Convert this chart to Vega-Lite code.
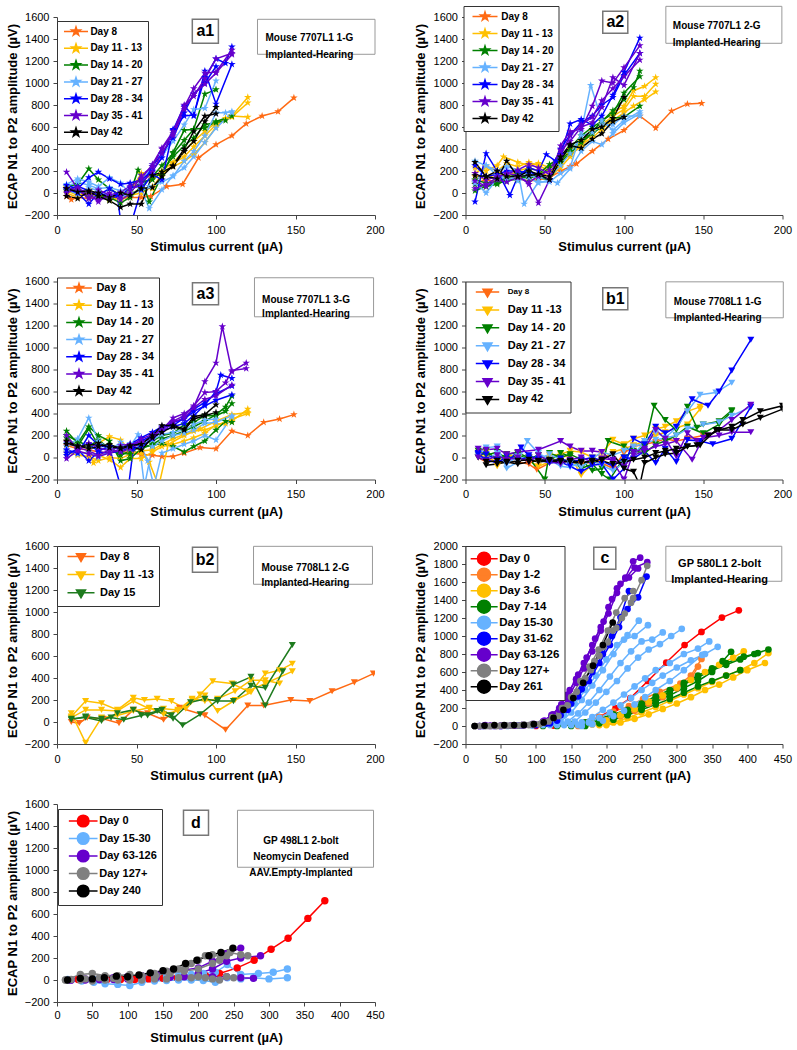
{
"$schema":"https://vega.github.io/schema/vega-lite/v6.json",
"background":"white",
"padding":{"left":6,"top":5,"right":5,"bottom":5},
"config":{
 "view":{"stroke":null},
 "font":"Liberation Sans",
 "axis":{"grid":false,"domainColor":"#444","tickColor":"#444","tickSize":4,"labelFontSize":11,"labelColor":"black","titleFontSize":13,"titleFontWeight":"bold","titleColor":"black","labelPadding":4,"labelOverlap":false,"labelFlush":false,"tickCount":30},
 "axisX":{"labelPadding":5,"titlePadding":5.5},
 "axisY":{"titlePadding":5},
 "legend":{"padding":5,"fillColor":"white","strokeColor":"#333","labelFontWeight":"bold","labelColor":"black","symbolStrokeWidth":1.5,"labelFont":"Liberation Sans"}
},
"datasets":{
"a1":[
{"g":0,"c":0,"x":6,"y":-30},{"g":0,"c":0,"x":9,"y":-60},{"g":0,"c":0,"x":13,"y":-40},{"g":0,"c":0,"x":20,"y":-50},{"g":0,"c":0,"x":26,"y":-30},{"g":0,"c":0,"x":33,"y":-60},{"g":0,"c":0,"x":40,"y":-50},{"g":0,"c":0,"x":46,"y":-40},{"g":0,"c":0,"x":53,"y":-40},{"g":0,"c":0,"x":59,"y":-30},{"g":0,"c":0,"x":69,"y":60},{"g":0,"c":0,"x":79,"y":80},{"g":0,"c":0,"x":89,"y":320},{"g":0,"c":0,"x":100,"y":440},{"g":0,"c":0,"x":110,"y":520},{"g":0,"c":0,"x":119,"y":630},{"g":0,"c":0,"x":129,"y":700},{"g":0,"c":0,"x":139,"y":740},{"g":0,"c":0,"x":149,"y":865},
{"g":1,"c":0,"x":6,"y":20},{"g":1,"c":0,"x":13,"y":-20},{"g":1,"c":0,"x":20,"y":10},{"g":1,"c":0,"x":26,"y":-30},{"g":1,"c":0,"x":33,"y":-60},{"g":1,"c":0,"x":40,"y":-40},{"g":1,"c":0,"x":46,"y":-20},{"g":1,"c":0,"x":53,"y":0},{"g":1,"c":0,"x":60,"y":60},{"g":1,"c":0,"x":66,"y":150},{"g":1,"c":0,"x":73,"y":270},{"g":1,"c":0,"x":80,"y":330},{"g":1,"c":0,"x":86,"y":420},{"g":1,"c":0,"x":93,"y":520},{"g":1,"c":0,"x":100,"y":620},{"g":1,"c":0,"x":110,"y":700},{"g":1,"c":0,"x":120,"y":870},
{"g":1,"c":1,"x":6,"y":50},{"g":1,"c":1,"x":13,"y":30},{"g":1,"c":1,"x":20,"y":-10},{"g":1,"c":1,"x":26,"y":0},{"g":1,"c":1,"x":33,"y":-40},{"g":1,"c":1,"x":40,"y":-20},{"g":1,"c":1,"x":46,"y":10},{"g":1,"c":1,"x":53,"y":180},{"g":1,"c":1,"x":60,"y":130},{"g":1,"c":1,"x":66,"y":200},{"g":1,"c":1,"x":73,"y":280},{"g":1,"c":1,"x":80,"y":380},{"g":1,"c":1,"x":86,"y":470},{"g":1,"c":1,"x":93,"y":560},{"g":1,"c":1,"x":100,"y":640},{"g":1,"c":1,"x":110,"y":690},{"g":1,"c":1,"x":120,"y":820},
{"g":1,"c":2,"x":6,"y":0},{"g":1,"c":2,"x":13,"y":-40},{"g":1,"c":2,"x":20,"y":30},{"g":1,"c":2,"x":26,"y":-20},{"g":1,"c":2,"x":33,"y":-30},{"g":1,"c":2,"x":40,"y":-70},{"g":1,"c":2,"x":46,"y":-10},{"g":1,"c":2,"x":53,"y":40},{"g":1,"c":2,"x":60,"y":40},{"g":1,"c":2,"x":66,"y":180},{"g":1,"c":2,"x":73,"y":240},{"g":1,"c":2,"x":80,"y":290},{"g":1,"c":2,"x":86,"y":350},{"g":1,"c":2,"x":93,"y":460},{"g":1,"c":2,"x":100,"y":600},{"g":1,"c":2,"x":106,"y":680},{"g":1,"c":2,"x":110,"y":700},{"g":1,"c":2,"x":120,"y":690},
{"g":2,"c":0,"x":6,"y":60},{"g":2,"c":0,"x":13,"y":80},{"g":2,"c":0,"x":20,"y":220},{"g":2,"c":0,"x":26,"y":120},{"g":2,"c":0,"x":33,"y":40},{"g":2,"c":0,"x":40,"y":-20},{"g":2,"c":0,"x":46,"y":0},{"g":2,"c":0,"x":51,"y":210},{"g":2,"c":0,"x":58,"y":-80},{"g":2,"c":0,"x":66,"y":160},{"g":2,"c":0,"x":73,"y":370},{"g":2,"c":0,"x":80,"y":570},{"g":2,"c":0,"x":86,"y":580},{"g":2,"c":0,"x":93,"y":900},{"g":2,"c":0,"x":100,"y":940},
{"g":2,"c":1,"x":6,"y":40},{"g":2,"c":1,"x":13,"y":20},{"g":2,"c":1,"x":20,"y":0},{"g":2,"c":1,"x":26,"y":-20},{"g":2,"c":1,"x":33,"y":-40},{"g":2,"c":1,"x":40,"y":-90},{"g":2,"c":1,"x":46,"y":-40},{"g":2,"c":1,"x":53,"y":60},{"g":2,"c":1,"x":60,"y":150},{"g":2,"c":1,"x":66,"y":250},{"g":2,"c":1,"x":73,"y":360},{"g":2,"c":1,"x":80,"y":480},{"g":2,"c":1,"x":86,"y":580},{"g":2,"c":1,"x":93,"y":590},{"g":2,"c":1,"x":100,"y":650},{"g":2,"c":1,"x":110,"y":700},
{"g":2,"c":2,"x":6,"y":20},{"g":2,"c":2,"x":13,"y":40},{"g":2,"c":2,"x":20,"y":-40},{"g":2,"c":2,"x":26,"y":10},{"g":2,"c":2,"x":33,"y":-60},{"g":2,"c":2,"x":40,"y":-10},{"g":2,"c":2,"x":46,"y":20},{"g":2,"c":2,"x":53,"y":100},{"g":2,"c":2,"x":60,"y":120},{"g":2,"c":2,"x":66,"y":190},{"g":2,"c":2,"x":73,"y":330},{"g":2,"c":2,"x":80,"y":430},{"g":2,"c":2,"x":86,"y":500},{"g":2,"c":2,"x":93,"y":620},{"g":2,"c":2,"x":100,"y":640},{"g":2,"c":2,"x":106,"y":660},
{"g":3,"c":0,"x":6,"y":80},{"g":3,"c":0,"x":13,"y":130},{"g":3,"c":0,"x":20,"y":100},{"g":3,"c":0,"x":26,"y":60},{"g":3,"c":0,"x":33,"y":140},{"g":3,"c":0,"x":40,"y":90},{"g":3,"c":0,"x":46,"y":-10},{"g":3,"c":0,"x":53,"y":30},{"g":3,"c":0,"x":58,"y":-140},{"g":3,"c":0,"x":66,"y":30},{"g":3,"c":0,"x":73,"y":160},{"g":3,"c":0,"x":80,"y":230},{"g":3,"c":0,"x":86,"y":330},{"g":3,"c":0,"x":93,"y":460},{"g":3,"c":0,"x":100,"y":590},{"g":3,"c":0,"x":110,"y":730},
{"g":3,"c":1,"x":6,"y":60},{"g":3,"c":1,"x":13,"y":100},{"g":3,"c":1,"x":20,"y":70},{"g":3,"c":1,"x":26,"y":40},{"g":3,"c":1,"x":33,"y":50},{"g":3,"c":1,"x":40,"y":20},{"g":3,"c":1,"x":46,"y":30},{"g":3,"c":1,"x":53,"y":80},{"g":3,"c":1,"x":60,"y":260},{"g":3,"c":1,"x":66,"y":340},{"g":3,"c":1,"x":73,"y":470},{"g":3,"c":1,"x":80,"y":620},{"g":3,"c":1,"x":86,"y":760},{"g":3,"c":1,"x":93,"y":770},{"g":3,"c":1,"x":100,"y":1020},
{"g":3,"c":2,"x":6,"y":30},{"g":3,"c":2,"x":13,"y":-10},{"g":3,"c":2,"x":20,"y":50},{"g":3,"c":2,"x":26,"y":20},{"g":3,"c":2,"x":33,"y":-20},{"g":3,"c":2,"x":40,"y":-40},{"g":3,"c":2,"x":46,"y":0},{"g":3,"c":2,"x":53,"y":20},{"g":3,"c":2,"x":58,"y":60},{"g":3,"c":2,"x":66,"y":100},{"g":3,"c":2,"x":73,"y":150},{"g":3,"c":2,"x":80,"y":290},{"g":3,"c":2,"x":86,"y":380},{"g":3,"c":2,"x":93,"y":520},{"g":3,"c":2,"x":100,"y":730},{"g":3,"c":2,"x":106,"y":730},{"g":3,"c":2,"x":110,"y":740},
{"g":4,"c":0,"x":6,"y":70},{"g":4,"c":0,"x":13,"y":40},{"g":4,"c":0,"x":20,"y":140},{"g":4,"c":0,"x":26,"y":190},{"g":4,"c":0,"x":33,"y":130},{"g":4,"c":0,"x":40,"y":80},{"g":4,"c":0,"x":46,"y":90},{"g":4,"c":0,"x":53,"y":120},{"g":4,"c":0,"x":60,"y":200},{"g":4,"c":0,"x":66,"y":320},{"g":4,"c":0,"x":73,"y":580},{"g":4,"c":0,"x":80,"y":700},{"g":4,"c":0,"x":86,"y":710},{"g":4,"c":0,"x":93,"y":1050},{"g":4,"c":0,"x":100,"y":1220},{"g":4,"c":0,"x":106,"y":1180},{"g":4,"c":0,"x":110,"y":1330},
{"g":4,"c":1,"x":6,"y":40},{"g":4,"c":1,"x":13,"y":0},{"g":4,"c":1,"x":20,"y":-100},{"g":4,"c":1,"x":26,"y":0},{"g":4,"c":1,"x":33,"y":-30},{"g":4,"c":1,"x":38,"y":-20},{"g":4,"c":1,"x":40,"y":-260},{"g":4,"c":1,"x":47,"y":-260},{"g":4,"c":1,"x":53,"y":30},{"g":4,"c":1,"x":60,"y":170},{"g":4,"c":1,"x":66,"y":120},{"g":4,"c":1,"x":73,"y":570},{"g":4,"c":1,"x":80,"y":790},{"g":4,"c":1,"x":86,"y":700},{"g":4,"c":1,"x":93,"y":1110},{"g":4,"c":1,"x":100,"y":810},{"g":4,"c":1,"x":110,"y":1170},
{"g":4,"c":2,"x":6,"y":30},{"g":4,"c":2,"x":13,"y":60},{"g":4,"c":2,"x":20,"y":20},{"g":4,"c":2,"x":26,"y":-20},{"g":4,"c":2,"x":33,"y":40},{"g":4,"c":2,"x":40,"y":-30},{"g":4,"c":2,"x":46,"y":50},{"g":4,"c":2,"x":53,"y":60},{"g":4,"c":2,"x":60,"y":240},{"g":4,"c":2,"x":66,"y":360},{"g":4,"c":2,"x":73,"y":500},{"g":4,"c":2,"x":80,"y":730},{"g":4,"c":2,"x":86,"y":900},{"g":4,"c":2,"x":93,"y":1000},{"g":4,"c":2,"x":100,"y":1150},
{"g":5,"c":0,"x":6,"y":190},{"g":5,"c":0,"x":13,"y":40},{"g":5,"c":0,"x":20,"y":0},{"g":5,"c":0,"x":26,"y":-80},{"g":5,"c":0,"x":33,"y":0},{"g":5,"c":0,"x":40,"y":-60},{"g":5,"c":0,"x":46,"y":-10},{"g":5,"c":0,"x":53,"y":160},{"g":5,"c":0,"x":60,"y":240},{"g":5,"c":0,"x":66,"y":400},{"g":5,"c":0,"x":73,"y":540},{"g":5,"c":0,"x":80,"y":800},{"g":5,"c":0,"x":86,"y":880},{"g":5,"c":0,"x":93,"y":1040},{"g":5,"c":0,"x":100,"y":1220},{"g":5,"c":0,"x":110,"y":1270},
{"g":5,"c":1,"x":6,"y":40},{"g":5,"c":1,"x":13,"y":30},{"g":5,"c":1,"x":20,"y":-50},{"g":5,"c":1,"x":26,"y":30},{"g":5,"c":1,"x":33,"y":-20},{"g":5,"c":1,"x":40,"y":10},{"g":5,"c":1,"x":46,"y":60},{"g":5,"c":1,"x":53,"y":130},{"g":5,"c":1,"x":60,"y":260},{"g":5,"c":1,"x":66,"y":410},{"g":5,"c":1,"x":73,"y":560},{"g":5,"c":1,"x":80,"y":780},{"g":5,"c":1,"x":86,"y":950},{"g":5,"c":1,"x":93,"y":1090},{"g":5,"c":1,"x":100,"y":1100},{"g":5,"c":1,"x":110,"y":1300},
{"g":5,"c":2,"x":6,"y":0},{"g":5,"c":2,"x":13,"y":50},{"g":5,"c":2,"x":20,"y":-40},{"g":5,"c":2,"x":26,"y":-60},{"g":5,"c":2,"x":33,"y":-40},{"g":5,"c":2,"x":40,"y":-20},{"g":5,"c":2,"x":46,"y":20},{"g":5,"c":2,"x":53,"y":90},{"g":5,"c":2,"x":60,"y":190},{"g":5,"c":2,"x":66,"y":360},{"g":5,"c":2,"x":73,"y":520},{"g":5,"c":2,"x":80,"y":760},{"g":5,"c":2,"x":86,"y":900},{"g":5,"c":2,"x":93,"y":990},{"g":5,"c":2,"x":100,"y":1090},{"g":5,"c":2,"x":110,"y":1260},
{"g":6,"c":0,"x":6,"y":-30},{"g":6,"c":0,"x":13,"y":-50},{"g":6,"c":0,"x":20,"y":10},{"g":6,"c":0,"x":26,"y":-30},{"g":6,"c":0,"x":33,"y":-70},{"g":6,"c":0,"x":40,"y":-130},{"g":6,"c":0,"x":46,"y":-100},{"g":6,"c":0,"x":53,"y":-100},{"g":6,"c":0,"x":60,"y":160},{"g":6,"c":0,"x":66,"y":190},{"g":6,"c":0,"x":73,"y":240},{"g":6,"c":0,"x":80,"y":380},{"g":6,"c":0,"x":86,"y":470},{"g":6,"c":0,"x":93,"y":650},{"g":6,"c":0,"x":100,"y":780},
{"g":6,"c":1,"x":6,"y":40},{"g":6,"c":1,"x":13,"y":10},{"g":6,"c":1,"x":20,"y":20},{"g":6,"c":1,"x":26,"y":0},{"g":6,"c":1,"x":33,"y":-40},{"g":6,"c":1,"x":40,"y":0},{"g":6,"c":1,"x":46,"y":-20},{"g":6,"c":1,"x":53,"y":40},{"g":6,"c":1,"x":60,"y":50},{"g":6,"c":1,"x":66,"y":150},{"g":6,"c":1,"x":73,"y":250},{"g":6,"c":1,"x":80,"y":400},{"g":6,"c":1,"x":86,"y":560},{"g":6,"c":1,"x":93,"y":700},{"g":6,"c":1,"x":100,"y":720}
],
"a2":[
{"g":0,"c":0,"x":6,"y":90},{"g":0,"c":0,"x":13,"y":120},{"g":0,"c":0,"x":20,"y":100},{"g":0,"c":0,"x":26,"y":150},{"g":0,"c":0,"x":33,"y":130},{"g":0,"c":0,"x":40,"y":110},{"g":0,"c":0,"x":46,"y":120},{"g":0,"c":0,"x":53,"y":140},{"g":0,"c":0,"x":60,"y":200},{"g":0,"c":0,"x":66,"y":240},{"g":0,"c":0,"x":70,"y":265},{"g":0,"c":0,"x":80,"y":380},{"g":0,"c":0,"x":90,"y":490},{"g":0,"c":0,"x":100,"y":570},{"g":0,"c":0,"x":110,"y":700},{"g":0,"c":0,"x":120,"y":590},{"g":0,"c":0,"x":130,"y":745},{"g":0,"c":0,"x":140,"y":810},{"g":0,"c":0,"x":149,"y":815},
{"g":1,"c":0,"x":6,"y":230},{"g":1,"c":0,"x":13,"y":200},{"g":1,"c":0,"x":20,"y":250},{"g":1,"c":0,"x":24,"y":330},{"g":1,"c":0,"x":33,"y":280},{"g":1,"c":0,"x":40,"y":250},{"g":1,"c":0,"x":46,"y":270},{"g":1,"c":0,"x":53,"y":230},{"g":1,"c":0,"x":60,"y":300},{"g":1,"c":0,"x":66,"y":350},{"g":1,"c":0,"x":73,"y":420},{"g":1,"c":0,"x":80,"y":560},{"g":1,"c":0,"x":86,"y":650},{"g":1,"c":0,"x":93,"y":730},{"g":1,"c":0,"x":100,"y":790},{"g":1,"c":0,"x":106,"y":930},{"g":1,"c":0,"x":113,"y":970},{"g":1,"c":0,"x":120,"y":1050},
{"g":1,"c":1,"x":6,"y":180},{"g":1,"c":1,"x":13,"y":240},{"g":1,"c":1,"x":20,"y":200},{"g":1,"c":1,"x":26,"y":270},{"g":1,"c":1,"x":33,"y":240},{"g":1,"c":1,"x":40,"y":280},{"g":1,"c":1,"x":46,"y":250},{"g":1,"c":1,"x":53,"y":200},{"g":1,"c":1,"x":60,"y":260},{"g":1,"c":1,"x":66,"y":400},{"g":1,"c":1,"x":73,"y":470},{"g":1,"c":1,"x":80,"y":540},{"g":1,"c":1,"x":86,"y":620},{"g":1,"c":1,"x":93,"y":700},{"g":1,"c":1,"x":100,"y":760},{"g":1,"c":1,"x":106,"y":880},{"g":1,"c":1,"x":113,"y":880},{"g":1,"c":1,"x":120,"y":990},
{"g":1,"c":2,"x":6,"y":150},{"g":1,"c":2,"x":13,"y":120},{"g":1,"c":2,"x":20,"y":180},{"g":1,"c":2,"x":26,"y":150},{"g":1,"c":2,"x":33,"y":200},{"g":1,"c":2,"x":40,"y":230},{"g":1,"c":2,"x":46,"y":200},{"g":1,"c":2,"x":53,"y":150},{"g":1,"c":2,"x":60,"y":230},{"g":1,"c":2,"x":66,"y":330},{"g":1,"c":2,"x":73,"y":440},{"g":1,"c":2,"x":80,"y":500},{"g":1,"c":2,"x":86,"y":580},{"g":1,"c":2,"x":93,"y":660},{"g":1,"c":2,"x":100,"y":730},{"g":1,"c":2,"x":106,"y":790},{"g":1,"c":2,"x":113,"y":850},{"g":1,"c":2,"x":120,"y":920},
{"g":2,"c":0,"x":6,"y":20},{"g":2,"c":0,"x":13,"y":60},{"g":2,"c":0,"x":20,"y":90},{"g":2,"c":0,"x":26,"y":110},{"g":2,"c":0,"x":33,"y":150},{"g":2,"c":0,"x":40,"y":130},{"g":2,"c":0,"x":46,"y":170},{"g":2,"c":0,"x":53,"y":260},{"g":2,"c":0,"x":60,"y":320},{"g":2,"c":0,"x":66,"y":410},{"g":2,"c":0,"x":73,"y":520},{"g":2,"c":0,"x":80,"y":600},{"g":2,"c":0,"x":86,"y":650},{"g":2,"c":0,"x":93,"y":750},{"g":2,"c":0,"x":100,"y":850},{"g":2,"c":0,"x":106,"y":960},{"g":2,"c":0,"x":110,"y":1110},
{"g":2,"c":1,"x":6,"y":120},{"g":2,"c":1,"x":13,"y":90},{"g":2,"c":1,"x":20,"y":100},{"g":2,"c":1,"x":26,"y":140},{"g":2,"c":1,"x":33,"y":170},{"g":2,"c":1,"x":40,"y":210},{"g":2,"c":1,"x":46,"y":150},{"g":2,"c":1,"x":53,"y":230},{"g":2,"c":1,"x":60,"y":300},{"g":2,"c":1,"x":66,"y":380},{"g":2,"c":1,"x":73,"y":480},{"g":2,"c":1,"x":80,"y":550},{"g":2,"c":1,"x":86,"y":660},{"g":2,"c":1,"x":93,"y":720},{"g":2,"c":1,"x":100,"y":910},{"g":2,"c":1,"x":110,"y":1060},
{"g":2,"c":2,"x":6,"y":80},{"g":2,"c":2,"x":13,"y":60},{"g":2,"c":2,"x":20,"y":80},{"g":2,"c":2,"x":26,"y":120},{"g":2,"c":2,"x":33,"y":120},{"g":2,"c":2,"x":40,"y":160},{"g":2,"c":2,"x":46,"y":140},{"g":2,"c":2,"x":53,"y":120},{"g":2,"c":2,"x":60,"y":280},{"g":2,"c":2,"x":66,"y":360},{"g":2,"c":2,"x":73,"y":460},{"g":2,"c":2,"x":80,"y":540},{"g":2,"c":2,"x":86,"y":600},{"g":2,"c":2,"x":93,"y":680},{"g":2,"c":2,"x":100,"y":690},{"g":2,"c":2,"x":110,"y":790},
{"g":3,"c":0,"x":6,"y":290},{"g":3,"c":0,"x":13,"y":250},{"g":3,"c":0,"x":20,"y":200},{"g":3,"c":0,"x":26,"y":240},{"g":3,"c":0,"x":33,"y":210},{"g":3,"c":0,"x":37,"y":-100},{"g":3,"c":0,"x":46,"y":100},{"g":3,"c":0,"x":53,"y":100},{"g":3,"c":0,"x":60,"y":180},{"g":3,"c":0,"x":66,"y":230},{"g":3,"c":0,"x":73,"y":560},{"g":3,"c":0,"x":79,"y":980},{"g":3,"c":0,"x":86,"y":660},{"g":3,"c":0,"x":93,"y":570},{"g":3,"c":0,"x":100,"y":660},{"g":3,"c":0,"x":110,"y":740},
{"g":3,"c":1,"x":6,"y":100},{"g":3,"c":1,"x":13,"y":0},{"g":3,"c":1,"x":20,"y":130},{"g":3,"c":1,"x":26,"y":170},{"g":3,"c":1,"x":33,"y":110},{"g":3,"c":1,"x":40,"y":140},{"g":3,"c":1,"x":46,"y":90},{"g":3,"c":1,"x":53,"y":120},{"g":3,"c":1,"x":58,"y":90},{"g":3,"c":1,"x":66,"y":220},{"g":3,"c":1,"x":73,"y":380},{"g":3,"c":1,"x":80,"y":470},{"g":3,"c":1,"x":86,"y":440},{"g":3,"c":1,"x":93,"y":540},{"g":3,"c":1,"x":100,"y":640},{"g":3,"c":1,"x":110,"y":720},
{"g":3,"c":2,"x":6,"y":90},{"g":3,"c":2,"x":13,"y":250},{"g":3,"c":2,"x":20,"y":160},{"g":3,"c":2,"x":26,"y":120},{"g":3,"c":2,"x":33,"y":150},{"g":3,"c":2,"x":40,"y":170},{"g":3,"c":2,"x":46,"y":130},{"g":3,"c":2,"x":53,"y":150},{"g":3,"c":2,"x":60,"y":250},{"g":3,"c":2,"x":66,"y":360},{"g":3,"c":2,"x":73,"y":520},{"g":3,"c":2,"x":80,"y":550},{"g":3,"c":2,"x":86,"y":620},{"g":3,"c":2,"x":93,"y":620},{"g":3,"c":2,"x":100,"y":700},{"g":3,"c":2,"x":110,"y":700},
{"g":4,"c":0,"x":6,"y":-80},{"g":4,"c":0,"x":13,"y":360},{"g":4,"c":0,"x":20,"y":200},{"g":4,"c":0,"x":28,"y":-20},{"g":4,"c":0,"x":33,"y":150},{"g":4,"c":0,"x":40,"y":230},{"g":4,"c":0,"x":46,"y":200},{"g":4,"c":0,"x":51,"y":350},{"g":4,"c":0,"x":57,"y":290},{"g":4,"c":0,"x":60,"y":350},{"g":4,"c":0,"x":66,"y":630},{"g":4,"c":0,"x":73,"y":670},{"g":4,"c":0,"x":80,"y":620},{"g":4,"c":0,"x":86,"y":700},{"g":4,"c":0,"x":93,"y":890},{"g":4,"c":0,"x":100,"y":1100},{"g":4,"c":0,"x":110,"y":1410},
{"g":4,"c":1,"x":6,"y":250},{"g":4,"c":1,"x":13,"y":150},{"g":4,"c":1,"x":20,"y":170},{"g":4,"c":1,"x":26,"y":200},{"g":4,"c":1,"x":33,"y":200},{"g":4,"c":1,"x":40,"y":180},{"g":4,"c":1,"x":46,"y":170},{"g":4,"c":1,"x":53,"y":120},{"g":4,"c":1,"x":60,"y":400},{"g":4,"c":1,"x":66,"y":530},{"g":4,"c":1,"x":73,"y":640},{"g":4,"c":1,"x":80,"y":700},{"g":4,"c":1,"x":86,"y":800},{"g":4,"c":1,"x":93,"y":870},{"g":4,"c":1,"x":100,"y":1070},{"g":4,"c":1,"x":110,"y":1270},
{"g":5,"c":0,"x":6,"y":40},{"g":5,"c":0,"x":13,"y":80},{"g":5,"c":0,"x":20,"y":140},{"g":5,"c":0,"x":26,"y":180},{"g":5,"c":0,"x":33,"y":160},{"g":5,"c":0,"x":40,"y":80},{"g":5,"c":0,"x":46,"y":-90},{"g":5,"c":0,"x":53,"y":120},{"g":5,"c":0,"x":60,"y":430},{"g":5,"c":0,"x":66,"y":560},{"g":5,"c":0,"x":73,"y":580},{"g":5,"c":0,"x":80,"y":790},{"g":5,"c":0,"x":86,"y":1020},{"g":5,"c":0,"x":93,"y":1000},{"g":5,"c":0,"x":100,"y":1140},{"g":5,"c":0,"x":110,"y":1340},
{"g":5,"c":1,"x":6,"y":180},{"g":5,"c":1,"x":13,"y":120},{"g":5,"c":1,"x":20,"y":150},{"g":5,"c":1,"x":26,"y":170},{"g":5,"c":1,"x":33,"y":210},{"g":5,"c":1,"x":40,"y":260},{"g":5,"c":1,"x":46,"y":230},{"g":5,"c":1,"x":53,"y":170},{"g":5,"c":1,"x":60,"y":340},{"g":5,"c":1,"x":66,"y":520},{"g":5,"c":1,"x":73,"y":620},{"g":5,"c":1,"x":80,"y":690},{"g":5,"c":1,"x":86,"y":840},{"g":5,"c":1,"x":93,"y":950},{"g":5,"c":1,"x":100,"y":1060},{"g":5,"c":1,"x":110,"y":1210},
{"g":5,"c":2,"x":6,"y":110},{"g":5,"c":2,"x":13,"y":60},{"g":5,"c":2,"x":20,"y":120},{"g":5,"c":2,"x":26,"y":100},{"g":5,"c":2,"x":33,"y":140},{"g":5,"c":2,"x":40,"y":100},{"g":5,"c":2,"x":46,"y":150},{"g":5,"c":2,"x":53,"y":210},{"g":5,"c":2,"x":60,"y":390},{"g":5,"c":2,"x":66,"y":470},{"g":5,"c":2,"x":73,"y":600},{"g":5,"c":2,"x":80,"y":640},{"g":5,"c":2,"x":86,"y":780},{"g":5,"c":2,"x":93,"y":1050},{"g":5,"c":2,"x":100,"y":980},{"g":5,"c":2,"x":110,"y":1270},
{"g":6,"c":0,"x":6,"y":280},{"g":6,"c":0,"x":13,"y":150},{"g":6,"c":0,"x":20,"y":130},{"g":6,"c":0,"x":26,"y":290},{"g":6,"c":0,"x":33,"y":150},{"g":6,"c":0,"x":40,"y":200},{"g":6,"c":0,"x":46,"y":170},{"g":6,"c":0,"x":53,"y":150},{"g":6,"c":0,"x":60,"y":330},{"g":6,"c":0,"x":66,"y":440},{"g":6,"c":0,"x":73,"y":480},{"g":6,"c":0,"x":80,"y":580},{"g":6,"c":0,"x":86,"y":600},{"g":6,"c":0,"x":93,"y":680},{"g":6,"c":0,"x":100,"y":870},
{"g":6,"c":1,"x":6,"y":160},{"g":6,"c":1,"x":13,"y":150},{"g":6,"c":1,"x":20,"y":200},{"g":6,"c":1,"x":26,"y":150},{"g":6,"c":1,"x":33,"y":150},{"g":6,"c":1,"x":40,"y":160},{"g":6,"c":1,"x":46,"y":170},{"g":6,"c":1,"x":53,"y":120},{"g":6,"c":1,"x":60,"y":300},{"g":6,"c":1,"x":66,"y":430},{"g":6,"c":1,"x":73,"y":410},{"g":6,"c":1,"x":80,"y":490},{"g":6,"c":1,"x":86,"y":540},{"g":6,"c":1,"x":93,"y":650},{"g":6,"c":1,"x":100,"y":690}
],
"a3":[
{"g":0,"c":0,"x":6,"y":110},{"g":0,"c":0,"x":13,"y":80},{"g":0,"c":0,"x":20,"y":70},{"g":0,"c":0,"x":26,"y":50},{"g":0,"c":0,"x":33,"y":40},{"g":0,"c":0,"x":40,"y":60},{"g":0,"c":0,"x":46,"y":40},{"g":0,"c":0,"x":53,"y":30},{"g":0,"c":0,"x":60,"y":20},{"g":0,"c":0,"x":66,"y":10},{"g":0,"c":0,"x":73,"y":10},{"g":0,"c":0,"x":80,"y":40},{"g":0,"c":0,"x":90,"y":90},{"g":0,"c":0,"x":100,"y":80},{"g":0,"c":0,"x":110,"y":240},{"g":0,"c":0,"x":120,"y":200},{"g":0,"c":0,"x":130,"y":320},{"g":0,"c":0,"x":140,"y":350},{"g":0,"c":0,"x":149,"y":390},
{"g":1,"c":0,"x":6,"y":40},{"g":1,"c":0,"x":13,"y":30},{"g":1,"c":0,"x":20,"y":50},{"g":1,"c":0,"x":23,"y":-50},{"g":1,"c":0,"x":26,"y":20},{"g":1,"c":0,"x":33,"y":-20},{"g":1,"c":0,"x":40,"y":-90},{"g":1,"c":0,"x":46,"y":-10},{"g":1,"c":0,"x":53,"y":-10},{"g":1,"c":0,"x":60,"y":50},{"g":1,"c":0,"x":66,"y":100},{"g":1,"c":0,"x":73,"y":120},{"g":1,"c":0,"x":80,"y":150},{"g":1,"c":0,"x":86,"y":180},{"g":1,"c":0,"x":93,"y":220},{"g":1,"c":0,"x":100,"y":300},{"g":1,"c":0,"x":106,"y":310},{"g":1,"c":0,"x":110,"y":330},{"g":1,"c":0,"x":120,"y":440},
{"g":1,"c":1,"x":6,"y":150},{"g":1,"c":1,"x":13,"y":90},{"g":1,"c":1,"x":20,"y":100},{"g":1,"c":1,"x":26,"y":130},{"g":1,"c":1,"x":33,"y":190},{"g":1,"c":1,"x":40,"y":160},{"g":1,"c":1,"x":46,"y":60},{"g":1,"c":1,"x":53,"y":40},{"g":1,"c":1,"x":58,"y":-40},{"g":1,"c":1,"x":64,"y":-260},{"g":1,"c":1,"x":70,"y":120},{"g":1,"c":1,"x":80,"y":200},{"g":1,"c":1,"x":90,"y":260},{"g":1,"c":1,"x":100,"y":330},{"g":1,"c":1,"x":110,"y":390},{"g":1,"c":1,"x":120,"y":410},
{"g":1,"c":2,"x":6,"y":60},{"g":1,"c":2,"x":13,"y":20},{"g":1,"c":2,"x":20,"y":10},{"g":1,"c":2,"x":26,"y":-30},{"g":1,"c":2,"x":33,"y":0},{"g":1,"c":2,"x":40,"y":-10},{"g":1,"c":2,"x":46,"y":30},{"g":1,"c":2,"x":53,"y":60},{"g":1,"c":2,"x":60,"y":70},{"g":1,"c":2,"x":66,"y":120},{"g":1,"c":2,"x":73,"y":170},{"g":1,"c":2,"x":80,"y":210},{"g":1,"c":2,"x":86,"y":240},{"g":1,"c":2,"x":93,"y":250},{"g":1,"c":2,"x":100,"y":290},{"g":1,"c":2,"x":110,"y":350},{"g":1,"c":2,"x":120,"y":400},
{"g":2,"c":0,"x":6,"y":240},{"g":2,"c":0,"x":13,"y":130},{"g":2,"c":0,"x":20,"y":280},{"g":2,"c":0,"x":26,"y":200},{"g":2,"c":0,"x":33,"y":150},{"g":2,"c":0,"x":40,"y":-30},{"g":2,"c":0,"x":46,"y":-10},{"g":2,"c":0,"x":53,"y":80},{"g":2,"c":0,"x":60,"y":120},{"g":2,"c":0,"x":66,"y":170},{"g":2,"c":0,"x":73,"y":200},{"g":2,"c":0,"x":80,"y":240},{"g":2,"c":0,"x":86,"y":280},{"g":2,"c":0,"x":93,"y":330},{"g":2,"c":0,"x":100,"y":390},{"g":2,"c":0,"x":106,"y":460},{"g":2,"c":0,"x":110,"y":560},
{"g":2,"c":1,"x":6,"y":180},{"g":2,"c":1,"x":13,"y":100},{"g":2,"c":1,"x":20,"y":260},{"g":2,"c":1,"x":26,"y":110},{"g":2,"c":1,"x":33,"y":90},{"g":2,"c":1,"x":40,"y":20},{"g":2,"c":1,"x":46,"y":60},{"g":2,"c":1,"x":53,"y":100},{"g":2,"c":1,"x":60,"y":110},{"g":2,"c":1,"x":66,"y":130},{"g":2,"c":1,"x":73,"y":100},{"g":2,"c":1,"x":80,"y":50},{"g":2,"c":1,"x":86,"y":100},{"g":2,"c":1,"x":93,"y":150},{"g":2,"c":1,"x":100,"y":250},{"g":2,"c":1,"x":106,"y":330},{"g":2,"c":1,"x":110,"y":320},
{"g":2,"c":2,"x":6,"y":200},{"g":2,"c":2,"x":13,"y":150},{"g":2,"c":2,"x":20,"y":100},{"g":2,"c":2,"x":26,"y":160},{"g":2,"c":2,"x":33,"y":80},{"g":2,"c":2,"x":40,"y":40},{"g":2,"c":2,"x":46,"y":30},{"g":2,"c":2,"x":53,"y":120},{"g":2,"c":2,"x":60,"y":150},{"g":2,"c":2,"x":66,"y":200},{"g":2,"c":2,"x":73,"y":220},{"g":2,"c":2,"x":80,"y":300},{"g":2,"c":2,"x":86,"y":320},{"g":2,"c":2,"x":93,"y":380},{"g":2,"c":2,"x":100,"y":380},{"g":2,"c":2,"x":106,"y":420},{"g":2,"c":2,"x":110,"y":490},
{"g":3,"c":0,"x":6,"y":100},{"g":3,"c":0,"x":13,"y":170},{"g":3,"c":0,"x":20,"y":360},{"g":3,"c":0,"x":26,"y":150},{"g":3,"c":0,"x":33,"y":80},{"g":3,"c":0,"x":40,"y":100},{"g":3,"c":0,"x":46,"y":100},{"g":3,"c":0,"x":51,"y":210},{"g":3,"c":0,"x":55,"y":-260},{"g":3,"c":0,"x":60,"y":100},{"g":3,"c":0,"x":66,"y":150},{"g":3,"c":0,"x":73,"y":200},{"g":3,"c":0,"x":80,"y":220},{"g":3,"c":0,"x":86,"y":250},{"g":3,"c":0,"x":93,"y":310},{"g":3,"c":0,"x":100,"y":320},{"g":3,"c":0,"x":110,"y":380},
{"g":3,"c":1,"x":6,"y":60},{"g":3,"c":1,"x":13,"y":30},{"g":3,"c":1,"x":20,"y":50},{"g":3,"c":1,"x":26,"y":0},{"g":3,"c":1,"x":33,"y":60},{"g":3,"c":1,"x":40,"y":140},{"g":3,"c":1,"x":46,"y":80},{"g":3,"c":1,"x":53,"y":100},{"g":3,"c":1,"x":57,"y":-30},{"g":3,"c":1,"x":61,"y":-260},{"g":3,"c":1,"x":66,"y":40},{"g":3,"c":1,"x":73,"y":80},{"g":3,"c":1,"x":80,"y":120},{"g":3,"c":1,"x":86,"y":150},{"g":3,"c":1,"x":93,"y":200},{"g":3,"c":1,"x":100,"y":160},{"g":3,"c":1,"x":110,"y":370},
{"g":3,"c":2,"x":6,"y":130},{"g":3,"c":2,"x":13,"y":110},{"g":3,"c":2,"x":20,"y":80},{"g":3,"c":2,"x":26,"y":90},{"g":3,"c":2,"x":33,"y":70},{"g":3,"c":2,"x":40,"y":90},{"g":3,"c":2,"x":46,"y":130},{"g":3,"c":2,"x":53,"y":140},{"g":3,"c":2,"x":60,"y":160},{"g":3,"c":2,"x":66,"y":210},{"g":3,"c":2,"x":73,"y":230},{"g":3,"c":2,"x":80,"y":250},{"g":3,"c":2,"x":86,"y":300},{"g":3,"c":2,"x":93,"y":340},{"g":3,"c":2,"x":100,"y":350},
{"g":4,"c":0,"x":6,"y":70},{"g":4,"c":0,"x":13,"y":40},{"g":4,"c":0,"x":20,"y":200},{"g":4,"c":0,"x":26,"y":110},{"g":4,"c":0,"x":33,"y":90},{"g":4,"c":0,"x":40,"y":-260},{"g":4,"c":0,"x":45,"y":-260},{"g":4,"c":0,"x":48,"y":80},{"g":4,"c":0,"x":53,"y":100},{"g":4,"c":0,"x":60,"y":170},{"g":4,"c":0,"x":66,"y":240},{"g":4,"c":0,"x":73,"y":280},{"g":4,"c":0,"x":80,"y":310},{"g":4,"c":0,"x":86,"y":380},{"g":4,"c":0,"x":93,"y":480},{"g":4,"c":0,"x":100,"y":600},{"g":4,"c":0,"x":103,"y":750},{"g":4,"c":0,"x":110,"y":720},
{"g":4,"c":1,"x":6,"y":40},{"g":4,"c":1,"x":13,"y":70},{"g":4,"c":1,"x":20,"y":-30},{"g":4,"c":1,"x":26,"y":50},{"g":4,"c":1,"x":33,"y":40},{"g":4,"c":1,"x":40,"y":60},{"g":4,"c":1,"x":46,"y":90},{"g":4,"c":1,"x":53,"y":150},{"g":4,"c":1,"x":60,"y":200},{"g":4,"c":1,"x":66,"y":260},{"g":4,"c":1,"x":73,"y":320},{"g":4,"c":1,"x":80,"y":350},{"g":4,"c":1,"x":86,"y":420},{"g":4,"c":1,"x":93,"y":470},{"g":4,"c":1,"x":100,"y":520},{"g":4,"c":1,"x":110,"y":570},
{"g":4,"c":2,"x":6,"y":20},{"g":4,"c":2,"x":13,"y":80},{"g":4,"c":2,"x":20,"y":120},{"g":4,"c":2,"x":26,"y":60},{"g":4,"c":2,"x":33,"y":100},{"g":4,"c":2,"x":40,"y":80},{"g":4,"c":2,"x":46,"y":120},{"g":4,"c":2,"x":53,"y":180},{"g":4,"c":2,"x":60,"y":230},{"g":4,"c":2,"x":66,"y":280},{"g":4,"c":2,"x":73,"y":290},{"g":4,"c":2,"x":80,"y":360},{"g":4,"c":2,"x":86,"y":440},{"g":4,"c":2,"x":93,"y":500},{"g":4,"c":2,"x":100,"y":580},{"g":4,"c":2,"x":110,"y":650},
{"g":5,"c":0,"x":6,"y":-10},{"g":5,"c":0,"x":13,"y":60},{"g":5,"c":0,"x":20,"y":30},{"g":5,"c":0,"x":26,"y":10},{"g":5,"c":0,"x":33,"y":40},{"g":5,"c":0,"x":40,"y":80},{"g":5,"c":0,"x":46,"y":100},{"g":5,"c":0,"x":53,"y":170},{"g":5,"c":0,"x":60,"y":210},{"g":5,"c":0,"x":66,"y":250},{"g":5,"c":0,"x":73,"y":360},{"g":5,"c":0,"x":80,"y":400},{"g":5,"c":0,"x":86,"y":460},{"g":5,"c":0,"x":93,"y":690},{"g":5,"c":0,"x":100,"y":860},{"g":5,"c":0,"x":104,"y":1190},{"g":5,"c":0,"x":110,"y":780},{"g":5,"c":0,"x":119,"y":860},
{"g":5,"c":1,"x":6,"y":200},{"g":5,"c":1,"x":13,"y":70},{"g":5,"c":1,"x":20,"y":130},{"g":5,"c":1,"x":26,"y":90},{"g":5,"c":1,"x":33,"y":60},{"g":5,"c":1,"x":40,"y":110},{"g":5,"c":1,"x":46,"y":120},{"g":5,"c":1,"x":53,"y":140},{"g":5,"c":1,"x":60,"y":180},{"g":5,"c":1,"x":66,"y":270},{"g":5,"c":1,"x":73,"y":330},{"g":5,"c":1,"x":80,"y":380},{"g":5,"c":1,"x":86,"y":470},{"g":5,"c":1,"x":93,"y":590},{"g":5,"c":1,"x":100,"y":600},{"g":5,"c":1,"x":106,"y":680},{"g":5,"c":1,"x":110,"y":790},{"g":5,"c":1,"x":119,"y":810},
{"g":5,"c":2,"x":6,"y":140},{"g":5,"c":2,"x":13,"y":90},{"g":5,"c":2,"x":20,"y":60},{"g":5,"c":2,"x":26,"y":20},{"g":5,"c":2,"x":33,"y":70},{"g":5,"c":2,"x":40,"y":50},{"g":5,"c":2,"x":46,"y":80},{"g":5,"c":2,"x":53,"y":130},{"g":5,"c":2,"x":60,"y":190},{"g":5,"c":2,"x":66,"y":230},{"g":5,"c":2,"x":73,"y":320},{"g":5,"c":2,"x":80,"y":360},{"g":5,"c":2,"x":86,"y":450},{"g":5,"c":2,"x":93,"y":530},{"g":5,"c":2,"x":100,"y":560},{"g":5,"c":2,"x":110,"y":660},
{"g":6,"c":0,"x":6,"y":150},{"g":6,"c":0,"x":13,"y":100},{"g":6,"c":0,"x":20,"y":110},{"g":6,"c":0,"x":26,"y":130},{"g":6,"c":0,"x":33,"y":90},{"g":6,"c":0,"x":40,"y":90},{"g":6,"c":0,"x":46,"y":110},{"g":6,"c":0,"x":53,"y":120},{"g":6,"c":0,"x":60,"y":200},{"g":6,"c":0,"x":66,"y":290},{"g":6,"c":0,"x":73,"y":290},{"g":6,"c":0,"x":80,"y":260},{"g":6,"c":0,"x":86,"y":370},{"g":6,"c":0,"x":93,"y":390},{"g":6,"c":0,"x":100,"y":480},
{"g":6,"c":1,"x":6,"y":120},{"g":6,"c":1,"x":13,"y":110},{"g":6,"c":1,"x":20,"y":80},{"g":6,"c":1,"x":26,"y":100},{"g":6,"c":1,"x":33,"y":120},{"g":6,"c":1,"x":40,"y":80},{"g":6,"c":1,"x":46,"y":100},{"g":6,"c":1,"x":53,"y":70},{"g":6,"c":1,"x":60,"y":180},{"g":6,"c":1,"x":66,"y":230},{"g":6,"c":1,"x":73,"y":280},{"g":6,"c":1,"x":80,"y":250},{"g":6,"c":1,"x":86,"y":350},{"g":6,"c":1,"x":93,"y":380},{"g":6,"c":1,"x":100,"y":410}
],
"b1":[
{"g":0,"c":0,"x":8,"y":0},{"g":0,"c":0,"x":13,"y":-40},{"g":0,"c":0,"x":20,"y":-20},{"g":0,"c":0,"x":26,"y":-30},{"g":0,"c":0,"x":33,"y":-40},{"g":0,"c":0,"x":40,"y":-60},{"g":0,"c":0,"x":45,"y":-110},{"g":0,"c":0,"x":53,"y":-50},{"g":0,"c":0,"x":60,"y":-30},{"g":0,"c":0,"x":66,"y":-20},{"g":0,"c":0,"x":73,"y":-60},{"g":0,"c":0,"x":80,"y":-40},{"g":0,"c":0,"x":86,"y":-50},{"g":0,"c":0,"x":93,"y":-100},{"g":0,"c":0,"x":100,"y":40},{"g":0,"c":0,"x":106,"y":100},{"g":0,"c":0,"x":113,"y":120},{"g":0,"c":0,"x":120,"y":140},{"g":0,"c":0,"x":126,"y":170},{"g":0,"c":0,"x":133,"y":150},{"g":0,"c":0,"x":140,"y":170},{"g":0,"c":0,"x":150,"y":200},
{"g":1,"c":0,"x":8,"y":20},{"g":1,"c":0,"x":13,"y":50},{"g":1,"c":0,"x":20,"y":-80},{"g":1,"c":0,"x":26,"y":10},{"g":1,"c":0,"x":33,"y":-10},{"g":1,"c":0,"x":40,"y":0},{"g":1,"c":0,"x":46,"y":-40},{"g":1,"c":0,"x":53,"y":20},{"g":1,"c":0,"x":60,"y":30},{"g":1,"c":0,"x":66,"y":60},{"g":1,"c":0,"x":73,"y":50},{"g":1,"c":0,"x":80,"y":0},{"g":1,"c":0,"x":86,"y":40},{"g":1,"c":0,"x":93,"y":160},{"g":1,"c":0,"x":100,"y":120},{"g":1,"c":0,"x":106,"y":170},{"g":1,"c":0,"x":113,"y":200},{"g":1,"c":0,"x":120,"y":260},{"g":1,"c":0,"x":126,"y":280},{"g":1,"c":0,"x":133,"y":330},{"g":1,"c":0,"x":140,"y":420},{"g":1,"c":0,"x":148,"y":460},
{"g":1,"c":1,"x":8,"y":40},{"g":1,"c":1,"x":13,"y":-10},{"g":1,"c":1,"x":20,"y":-40},{"g":1,"c":1,"x":26,"y":30},{"g":1,"c":1,"x":33,"y":0},{"g":1,"c":1,"x":40,"y":-30},{"g":1,"c":1,"x":46,"y":-80},{"g":1,"c":1,"x":53,"y":-40},{"g":1,"c":1,"x":60,"y":0},{"g":1,"c":1,"x":66,"y":20},{"g":1,"c":1,"x":73,"y":-160},{"g":1,"c":1,"x":80,"y":-60},{"g":1,"c":1,"x":86,"y":-10},{"g":1,"c":1,"x":93,"y":50},{"g":1,"c":1,"x":100,"y":80},{"g":1,"c":1,"x":106,"y":110},{"g":1,"c":1,"x":113,"y":150},{"g":1,"c":1,"x":120,"y":200},{"g":1,"c":1,"x":126,"y":230},{"g":1,"c":1,"x":133,"y":270},{"g":1,"c":1,"x":140,"y":300},{"g":1,"c":1,"x":148,"y":440},
{"g":2,"c":0,"x":8,"y":0},{"g":2,"c":0,"x":13,"y":60},{"g":2,"c":0,"x":20,"y":-20},{"g":2,"c":0,"x":26,"y":30},{"g":2,"c":0,"x":33,"y":40},{"g":2,"c":0,"x":40,"y":0},{"g":2,"c":0,"x":50,"y":-200},{"g":2,"c":0,"x":53,"y":40},{"g":2,"c":0,"x":60,"y":0},{"g":2,"c":0,"x":66,"y":30},{"g":2,"c":0,"x":73,"y":-20},{"g":2,"c":0,"x":80,"y":-120},{"g":2,"c":0,"x":86,"y":-100},{"g":2,"c":0,"x":90,"y":150},{"g":2,"c":0,"x":100,"y":100},{"g":2,"c":0,"x":106,"y":50},{"g":2,"c":0,"x":113,"y":100},{"g":2,"c":0,"x":119,"y":470},{"g":2,"c":0,"x":126,"y":340},{"g":2,"c":0,"x":133,"y":250},{"g":2,"c":0,"x":140,"y":460},{"g":2,"c":0,"x":146,"y":270},{"g":2,"c":0,"x":150,"y":300},{"g":2,"c":0,"x":160,"y":330},{"g":2,"c":0,"x":168,"y":430},
{"g":2,"c":1,"x":8,"y":60},{"g":2,"c":1,"x":13,"y":20},{"g":2,"c":1,"x":20,"y":50},{"g":2,"c":1,"x":26,"y":-10},{"g":2,"c":1,"x":33,"y":20},{"g":2,"c":1,"x":40,"y":-10},{"g":2,"c":1,"x":46,"y":20},{"g":2,"c":1,"x":53,"y":-30},{"g":2,"c":1,"x":60,"y":40},{"g":2,"c":1,"x":66,"y":10},{"g":2,"c":1,"x":73,"y":-100},{"g":2,"c":1,"x":80,"y":-60},{"g":2,"c":1,"x":86,"y":-150},{"g":2,"c":1,"x":91,"y":-200},{"g":2,"c":1,"x":100,"y":0},{"g":2,"c":1,"x":106,"y":60},{"g":2,"c":1,"x":113,"y":40},{"g":2,"c":1,"x":120,"y":120},{"g":2,"c":1,"x":126,"y":150},{"g":2,"c":1,"x":133,"y":200},{"g":2,"c":1,"x":140,"y":280},{"g":2,"c":1,"x":150,"y":220},{"g":2,"c":1,"x":160,"y":300},{"g":2,"c":1,"x":168,"y":420},
{"g":3,"c":0,"x":8,"y":30},{"g":3,"c":0,"x":13,"y":90},{"g":3,"c":0,"x":20,"y":100},{"g":3,"c":0,"x":26,"y":-100},{"g":3,"c":0,"x":33,"y":-40},{"g":3,"c":0,"x":39,"y":150},{"g":3,"c":0,"x":46,"y":40},{"g":3,"c":0,"x":53,"y":-20},{"g":3,"c":0,"x":60,"y":-80},{"g":3,"c":0,"x":66,"y":-90},{"g":3,"c":0,"x":73,"y":-40},{"g":3,"c":0,"x":80,"y":-30},{"g":3,"c":0,"x":86,"y":-70},{"g":3,"c":0,"x":93,"y":-120},{"g":3,"c":0,"x":100,"y":-50},{"g":3,"c":0,"x":106,"y":20},{"g":3,"c":0,"x":113,"y":150},{"g":3,"c":0,"x":120,"y":230},{"g":3,"c":0,"x":126,"y":180},{"g":3,"c":0,"x":133,"y":270},{"g":3,"c":0,"x":140,"y":420},{"g":3,"c":0,"x":148,"y":570},{"g":3,"c":0,"x":158,"y":590},{"g":3,"c":0,"x":168,"y":680},
{"g":3,"c":1,"x":8,"y":10},{"g":3,"c":1,"x":13,"y":-20},{"g":3,"c":1,"x":20,"y":40},{"g":3,"c":1,"x":26,"y":-60},{"g":3,"c":1,"x":33,"y":10},{"g":3,"c":1,"x":40,"y":-20},{"g":3,"c":1,"x":46,"y":-10},{"g":3,"c":1,"x":53,"y":30},{"g":3,"c":1,"x":60,"y":-20},{"g":3,"c":1,"x":66,"y":-50},{"g":3,"c":1,"x":73,"y":-90},{"g":3,"c":1,"x":80,"y":-10},{"g":3,"c":1,"x":86,"y":50},{"g":3,"c":1,"x":93,"y":20},{"g":3,"c":1,"x":100,"y":60},{"g":3,"c":1,"x":106,"y":100},{"g":3,"c":1,"x":113,"y":130},{"g":3,"c":1,"x":120,"y":160},{"g":3,"c":1,"x":133,"y":200},{"g":3,"c":1,"x":140,"y":260},{"g":3,"c":1,"x":150,"y":300},{"g":3,"c":1,"x":160,"y":320},{"g":3,"c":1,"x":168,"y":380},{"g":3,"c":1,"x":180,"y":460},
{"g":4,"c":0,"x":8,"y":40},{"g":4,"c":0,"x":13,"y":30},{"g":4,"c":0,"x":20,"y":-20},{"g":4,"c":0,"x":26,"y":-50},{"g":4,"c":0,"x":35,"y":90},{"g":4,"c":0,"x":40,"y":20},{"g":4,"c":0,"x":46,"y":-20},{"g":4,"c":0,"x":53,"y":-50},{"g":4,"c":0,"x":60,"y":-40},{"g":4,"c":0,"x":66,"y":-80},{"g":4,"c":0,"x":73,"y":-130},{"g":4,"c":0,"x":80,"y":-70},{"g":4,"c":0,"x":86,"y":-60},{"g":4,"c":0,"x":93,"y":-200},{"g":4,"c":0,"x":100,"y":-100},{"g":4,"c":0,"x":106,"y":170},{"g":4,"c":0,"x":113,"y":120},{"g":4,"c":0,"x":120,"y":280},{"g":4,"c":0,"x":126,"y":220},{"g":4,"c":0,"x":133,"y":280},{"g":4,"c":0,"x":143,"y":530},{"g":4,"c":0,"x":153,"y":470},{"g":4,"c":0,"x":160,"y":600},{"g":4,"c":0,"x":168,"y":790},{"g":4,"c":0,"x":180,"y":1070},
{"g":4,"c":1,"x":8,"y":30},{"g":4,"c":1,"x":13,"y":-20},{"g":4,"c":1,"x":20,"y":-50},{"g":4,"c":1,"x":26,"y":10},{"g":4,"c":1,"x":33,"y":-20},{"g":4,"c":1,"x":40,"y":0},{"g":4,"c":1,"x":46,"y":-10},{"g":4,"c":1,"x":53,"y":-40},{"g":4,"c":1,"x":60,"y":-10},{"g":4,"c":1,"x":66,"y":-40},{"g":4,"c":1,"x":73,"y":-20},{"g":4,"c":1,"x":80,"y":0},{"g":4,"c":1,"x":86,"y":-30},{"g":4,"c":1,"x":93,"y":-80},{"g":4,"c":1,"x":100,"y":0},{"g":4,"c":1,"x":106,"y":-10},{"g":4,"c":1,"x":113,"y":60},{"g":4,"c":1,"x":120,"y":-50},{"g":4,"c":1,"x":126,"y":80},{"g":4,"c":1,"x":133,"y":-40},{"g":4,"c":1,"x":140,"y":160},{"g":4,"c":1,"x":148,"y":150},{"g":4,"c":1,"x":156,"y":120},{"g":4,"c":1,"x":168,"y":170},{"g":4,"c":1,"x":180,"y":460},
{"g":5,"c":0,"x":8,"y":80},{"g":5,"c":0,"x":13,"y":70},{"g":5,"c":0,"x":20,"y":80},{"g":5,"c":0,"x":26,"y":30},{"g":5,"c":0,"x":33,"y":50},{"g":5,"c":0,"x":46,"y":70},{"g":5,"c":0,"x":60,"y":150},{"g":5,"c":0,"x":66,"y":100},{"g":5,"c":0,"x":73,"y":60},{"g":5,"c":0,"x":80,"y":60},{"g":5,"c":0,"x":86,"y":50},{"g":5,"c":0,"x":93,"y":-40},{"g":5,"c":0,"x":100,"y":-200},{"g":5,"c":0,"x":106,"y":50},{"g":5,"c":0,"x":113,"y":80},{"g":5,"c":0,"x":120,"y":250},{"g":5,"c":0,"x":126,"y":170},{"g":5,"c":0,"x":133,"y":10},{"g":5,"c":0,"x":140,"y":220},{"g":5,"c":0,"x":146,"y":150},{"g":5,"c":0,"x":153,"y":200},{"g":5,"c":0,"x":160,"y":250},{"g":5,"c":0,"x":168,"y":340},{"g":5,"c":0,"x":180,"y":480},
{"g":5,"c":1,"x":8,"y":0},{"g":5,"c":1,"x":13,"y":-30},{"g":5,"c":1,"x":20,"y":20},{"g":5,"c":1,"x":26,"y":-20},{"g":5,"c":1,"x":33,"y":0},{"g":5,"c":1,"x":40,"y":-40},{"g":5,"c":1,"x":46,"y":20},{"g":5,"c":1,"x":53,"y":-30},{"g":5,"c":1,"x":60,"y":-60},{"g":5,"c":1,"x":66,"y":-20},{"g":5,"c":1,"x":73,"y":0},{"g":5,"c":1,"x":80,"y":-40},{"g":5,"c":1,"x":86,"y":-10},{"g":5,"c":1,"x":93,"y":-20},{"g":5,"c":1,"x":100,"y":-80},{"g":5,"c":1,"x":106,"y":20},{"g":5,"c":1,"x":113,"y":60},{"g":5,"c":1,"x":120,"y":100},{"g":5,"c":1,"x":126,"y":120},{"g":5,"c":1,"x":133,"y":150},{"g":5,"c":1,"x":143,"y":-20},{"g":5,"c":1,"x":150,"y":180},{"g":5,"c":1,"x":160,"y":200},{"g":5,"c":1,"x":168,"y":230},{"g":5,"c":1,"x":180,"y":230},
{"g":6,"c":0,"x":13,"y":-70},{"g":6,"c":0,"x":20,"y":-60},{"g":6,"c":0,"x":26,"y":-40},{"g":6,"c":0,"x":33,"y":-60},{"g":6,"c":0,"x":40,"y":-40},{"g":6,"c":0,"x":46,"y":-30},{"g":6,"c":0,"x":53,"y":-20},{"g":6,"c":0,"x":60,"y":-30},{"g":6,"c":0,"x":66,"y":-40},{"g":6,"c":0,"x":73,"y":-50},{"g":6,"c":0,"x":80,"y":-30},{"g":6,"c":0,"x":86,"y":-20},{"g":6,"c":0,"x":93,"y":30},{"g":6,"c":0,"x":100,"y":-100},{"g":6,"c":0,"x":106,"y":-130},{"g":6,"c":0,"x":110,"y":-250},{"g":6,"c":0,"x":113,"y":-50},{"g":6,"c":0,"x":120,"y":0},{"g":6,"c":0,"x":126,"y":30},{"g":6,"c":0,"x":133,"y":40},{"g":6,"c":0,"x":140,"y":100},{"g":6,"c":0,"x":146,"y":110},{"g":6,"c":0,"x":153,"y":200},{"g":6,"c":0,"x":160,"y":250},{"g":6,"c":0,"x":168,"y":280},{"g":6,"c":0,"x":175,"y":340},{"g":6,"c":0,"x":186,"y":420},{"g":6,"c":0,"x":200,"y":470},
{"g":6,"c":1,"x":13,"y":-40},{"g":6,"c":1,"x":20,"y":-30},{"g":6,"c":1,"x":26,"y":-50},{"g":6,"c":1,"x":33,"y":-30},{"g":6,"c":1,"x":40,"y":-20},{"g":6,"c":1,"x":46,"y":-40},{"g":6,"c":1,"x":53,"y":-30},{"g":6,"c":1,"x":60,"y":-40},{"g":6,"c":1,"x":66,"y":-30},{"g":6,"c":1,"x":73,"y":-40},{"g":6,"c":1,"x":80,"y":-40},{"g":6,"c":1,"x":86,"y":-30},{"g":6,"c":1,"x":93,"y":-60},{"g":6,"c":1,"x":100,"y":-40},{"g":6,"c":1,"x":106,"y":-20},{"g":6,"c":1,"x":113,"y":0},{"g":6,"c":1,"x":120,"y":40},{"g":6,"c":1,"x":126,"y":60},{"g":6,"c":1,"x":133,"y":80},{"g":6,"c":1,"x":140,"y":100},{"g":6,"c":1,"x":148,"y":110},{"g":6,"c":1,"x":158,"y":250},{"g":6,"c":1,"x":168,"y":250},{"g":6,"c":1,"x":175,"y":300},{"g":6,"c":1,"x":186,"y":360},{"g":6,"c":1,"x":200,"y":440}
],
"b2":[
{"g":0,"c":0,"x":9,"y":0},{"g":0,"c":0,"x":14,"y":-10},{"g":0,"c":0,"x":19,"y":40},{"g":0,"c":0,"x":29,"y":30},{"g":0,"c":0,"x":39,"y":-10},{"g":0,"c":0,"x":48,"y":110},{"g":0,"c":0,"x":57,"y":80},{"g":0,"c":0,"x":67,"y":20},{"g":0,"c":0,"x":77,"y":130},{"g":0,"c":0,"x":93,"y":60},{"g":0,"c":0,"x":106,"y":-70},{"g":0,"c":0,"x":120,"y":150},{"g":0,"c":0,"x":130,"y":150},{"g":0,"c":0,"x":147,"y":200},{"g":0,"c":0,"x":159,"y":190},{"g":0,"c":0,"x":173,"y":280},{"g":0,"c":0,"x":187,"y":360},{"g":0,"c":0,"x":199,"y":440},
{"g":1,"c":0,"x":9,"y":80},{"g":1,"c":0,"x":18,"y":-190},{"g":1,"c":0,"x":28,"y":40},{"g":1,"c":0,"x":38,"y":60},{"g":1,"c":0,"x":48,"y":100},{"g":1,"c":0,"x":58,"y":130},{"g":1,"c":0,"x":67,"y":70},{"g":1,"c":0,"x":76,"y":100},{"g":1,"c":0,"x":85,"y":200},{"g":1,"c":0,"x":93,"y":240},{"g":1,"c":0,"x":101,"y":100},{"g":1,"c":0,"x":112,"y":200},{"g":1,"c":0,"x":122,"y":270},{"g":1,"c":0,"x":131,"y":440},{"g":1,"c":0,"x":140,"y":470},{"g":1,"c":0,"x":148,"y":530},
{"g":1,"c":1,"x":9,"y":50},{"g":1,"c":1,"x":18,"y":190},{"g":1,"c":1,"x":28,"y":170},{"g":1,"c":1,"x":38,"y":110},{"g":1,"c":1,"x":48,"y":220},{"g":1,"c":1,"x":55,"y":200},{"g":1,"c":1,"x":63,"y":210},{"g":1,"c":1,"x":72,"y":190},{"g":1,"c":1,"x":81,"y":120},{"g":1,"c":1,"x":90,"y":250},{"g":1,"c":1,"x":98,"y":370},{"g":1,"c":1,"x":110,"y":350},{"g":1,"c":1,"x":120,"y":280},{"g":1,"c":1,"x":131,"y":350},{"g":1,"c":1,"x":148,"y":460},
{"g":1,"c":2,"x":9,"y":40},{"g":1,"c":2,"x":18,"y":110},{"g":1,"c":2,"x":28,"y":110},{"g":1,"c":2,"x":38,"y":100},{"g":1,"c":2,"x":48,"y":190},{"g":1,"c":2,"x":58,"y":120},{"g":1,"c":2,"x":67,"y":120},{"g":1,"c":2,"x":76,"y":110},{"g":1,"c":2,"x":85,"y":210},{"g":1,"c":2,"x":93,"y":190},{"g":1,"c":2,"x":101,"y":210},{"g":1,"c":2,"x":112,"y":280},{"g":1,"c":2,"x":122,"y":380},{"g":1,"c":2,"x":131,"y":380},{"g":1,"c":2,"x":140,"y":350},
{"g":2,"c":0,"x":9,"y":30},{"g":2,"c":0,"x":18,"y":40},{"g":2,"c":0,"x":28,"y":10},{"g":2,"c":0,"x":38,"y":80},{"g":2,"c":0,"x":48,"y":110},{"g":2,"c":0,"x":57,"y":60},{"g":2,"c":0,"x":66,"y":110},{"g":2,"c":0,"x":72,"y":60},{"g":2,"c":0,"x":79,"y":-30},{"g":2,"c":0,"x":90,"y":70},{"g":2,"c":0,"x":101,"y":200},{"g":2,"c":0,"x":111,"y":340},{"g":2,"c":0,"x":122,"y":410},{"g":2,"c":0,"x":131,"y":150},{"g":2,"c":0,"x":142,"y":460},
{"g":2,"c":1,"x":9,"y":20},{"g":2,"c":1,"x":18,"y":50},{"g":2,"c":1,"x":28,"y":30},{"g":2,"c":1,"x":34,"y":40},{"g":2,"c":1,"x":42,"y":20},{"g":2,"c":1,"x":53,"y":60},{"g":2,"c":1,"x":63,"y":100},{"g":2,"c":1,"x":73,"y":30},{"g":2,"c":1,"x":84,"y":180},{"g":2,"c":1,"x":93,"y":210},{"g":2,"c":1,"x":101,"y":190},{"g":2,"c":1,"x":111,"y":190},{"g":2,"c":1,"x":122,"y":330},{"g":2,"c":1,"x":131,"y":310},{"g":2,"c":1,"x":148,"y":700}
],
"c":[
{"g":0,"c":0,"x":100,"y":0},{"g":0,"c":0,"x":125,"y":5},{"g":0,"c":0,"x":150,"y":10},{"g":0,"c":0,"x":170,"y":40},{"g":0,"c":0,"x":190,"y":100},{"g":0,"c":0,"x":213,"y":200},{"g":0,"c":0,"x":234,"y":310},{"g":0,"c":0,"x":259,"y":500},{"g":0,"c":0,"x":285,"y":705},{"g":0,"c":0,"x":311,"y":900},{"g":0,"c":0,"x":335,"y":1045},{"g":0,"c":0,"x":364,"y":1205},{"g":0,"c":0,"x":388,"y":1285},
{"g":1,"c":0,"x":150,"y":10},{"g":1,"c":0,"x":170,"y":40},{"g":1,"c":0,"x":190,"y":100},{"g":1,"c":0,"x":210,"y":160},{"g":1,"c":0,"x":232,"y":220},{"g":1,"c":0,"x":252,"y":300},{"g":1,"c":0,"x":276,"y":380},{"g":1,"c":0,"x":305,"y":470},{"g":1,"c":0,"x":320,"y":560},{"g":1,"c":0,"x":335,"y":745},
{"g":1,"c":1,"x":160,"y":0},{"g":1,"c":1,"x":180,"y":20},{"g":1,"c":1,"x":200,"y":60},{"g":1,"c":1,"x":220,"y":110},{"g":1,"c":1,"x":240,"y":170},{"g":1,"c":1,"x":260,"y":250},{"g":1,"c":1,"x":280,"y":320},{"g":1,"c":1,"x":300,"y":420},{"g":1,"c":1,"x":320,"y":520},{"g":1,"c":1,"x":330,"y":660},
{"g":2,"c":0,"x":190,"y":10},{"g":2,"c":0,"x":210,"y":40},{"g":2,"c":0,"x":230,"y":90},{"g":2,"c":0,"x":250,"y":150},{"g":2,"c":0,"x":270,"y":210},{"g":2,"c":0,"x":290,"y":280},{"g":2,"c":0,"x":310,"y":350},{"g":2,"c":0,"x":330,"y":420},{"g":2,"c":0,"x":350,"y":490},{"g":2,"c":0,"x":370,"y":560},{"g":2,"c":0,"x":390,"y":620},{"g":2,"c":0,"x":410,"y":700},{"g":2,"c":0,"x":430,"y":810},
{"g":2,"c":1,"x":200,"y":10},{"g":2,"c":1,"x":220,"y":40},{"g":2,"c":1,"x":240,"y":80},{"g":2,"c":1,"x":260,"y":130},{"g":2,"c":1,"x":280,"y":190},{"g":2,"c":1,"x":300,"y":250},{"g":2,"c":1,"x":320,"y":320},{"g":2,"c":1,"x":340,"y":400},{"g":2,"c":1,"x":360,"y":460},{"g":2,"c":1,"x":380,"y":540},{"g":2,"c":1,"x":400,"y":620},{"g":2,"c":1,"x":425,"y":700},
{"g":2,"c":2,"x":180,"y":20},{"g":2,"c":2,"x":200,"y":60},{"g":2,"c":2,"x":220,"y":120},{"g":2,"c":2,"x":240,"y":190},{"g":2,"c":2,"x":260,"y":270},{"g":2,"c":2,"x":280,"y":340},{"g":2,"c":2,"x":300,"y":430},{"g":2,"c":2,"x":320,"y":510},{"g":2,"c":2,"x":340,"y":600},{"g":2,"c":2,"x":360,"y":680},{"g":2,"c":2,"x":380,"y":760},{"g":2,"c":2,"x":395,"y":830},
{"g":3,"c":0,"x":130,"y":0},{"g":3,"c":0,"x":150,"y":10},{"g":3,"c":0,"x":170,"y":30},{"g":3,"c":0,"x":190,"y":60},{"g":3,"c":0,"x":210,"y":110},{"g":3,"c":0,"x":230,"y":170},{"g":3,"c":0,"x":250,"y":230},{"g":3,"c":0,"x":270,"y":300},{"g":3,"c":0,"x":290,"y":380},{"g":3,"c":0,"x":310,"y":460},{"g":3,"c":0,"x":330,"y":540},{"g":3,"c":0,"x":350,"y":620},{"g":3,"c":0,"x":370,"y":680},{"g":3,"c":0,"x":390,"y":740},{"g":3,"c":0,"x":410,"y":800},{"g":3,"c":0,"x":430,"y":850},
{"g":3,"c":1,"x":150,"y":0},{"g":3,"c":1,"x":170,"y":20},{"g":3,"c":1,"x":190,"y":50},{"g":3,"c":1,"x":210,"y":90},{"g":3,"c":1,"x":230,"y":140},{"g":3,"c":1,"x":250,"y":200},{"g":3,"c":1,"x":270,"y":270},{"g":3,"c":1,"x":290,"y":340},{"g":3,"c":1,"x":310,"y":420},{"g":3,"c":1,"x":330,"y":500},{"g":3,"c":1,"x":350,"y":600},{"g":3,"c":1,"x":365,"y":720},{"g":3,"c":1,"x":377,"y":825},
{"g":3,"c":2,"x":170,"y":0},{"g":3,"c":2,"x":190,"y":30},{"g":3,"c":2,"x":210,"y":70},{"g":3,"c":2,"x":230,"y":120},{"g":3,"c":2,"x":250,"y":180},{"g":3,"c":2,"x":270,"y":240},{"g":3,"c":2,"x":290,"y":300},{"g":3,"c":2,"x":310,"y":370},{"g":3,"c":2,"x":330,"y":440},{"g":3,"c":2,"x":350,"y":500},{"g":3,"c":2,"x":370,"y":560},{"g":3,"c":2,"x":390,"y":620},
{"g":3,"c":3,"x":110,"y":0},{"g":3,"c":3,"x":130,"y":5},{"g":3,"c":3,"x":150,"y":20},{"g":3,"c":3,"x":170,"y":40},{"g":3,"c":3,"x":190,"y":80},{"g":3,"c":3,"x":210,"y":130},{"g":3,"c":3,"x":230,"y":180},{"g":3,"c":3,"x":250,"y":250},{"g":3,"c":3,"x":270,"y":330},{"g":3,"c":3,"x":290,"y":400},{"g":3,"c":3,"x":310,"y":480},{"g":3,"c":3,"x":330,"y":560},{"g":3,"c":3,"x":350,"y":640},{"g":3,"c":3,"x":370,"y":700},{"g":3,"c":3,"x":395,"y":770},{"g":3,"c":3,"x":415,"y":810},
{"g":4,"c":0,"x":20,"y":0},{"g":4,"c":0,"x":40,"y":0},{"g":4,"c":0,"x":60,"y":0},{"g":4,"c":0,"x":80,"y":5},{"g":4,"c":0,"x":95,"y":5},{"g":4,"c":0,"x":110,"y":10},{"g":4,"c":0,"x":125,"y":40},{"g":4,"c":0,"x":140,"y":120},{"g":4,"c":0,"x":155,"y":250},{"g":4,"c":0,"x":170,"y":400},{"g":4,"c":0,"x":185,"y":560},{"g":4,"c":0,"x":200,"y":740},{"g":4,"c":0,"x":215,"y":900},{"g":4,"c":0,"x":230,"y":1010},{"g":4,"c":0,"x":246,"y":1170},
{"g":4,"c":1,"x":120,"y":10},{"g":4,"c":1,"x":135,"y":50},{"g":4,"c":1,"x":150,"y":150},{"g":4,"c":1,"x":165,"y":290},{"g":4,"c":1,"x":180,"y":450},{"g":4,"c":1,"x":195,"y":620},{"g":4,"c":1,"x":210,"y":800},{"g":4,"c":1,"x":225,"y":960},{"g":4,"c":1,"x":240,"y":1000},{"g":4,"c":1,"x":259,"y":1120},
{"g":4,"c":2,"x":130,"y":10},{"g":4,"c":2,"x":145,"y":50},{"g":4,"c":2,"x":160,"y":140},{"g":4,"c":2,"x":175,"y":260},{"g":4,"c":2,"x":190,"y":400},{"g":4,"c":2,"x":205,"y":550},{"g":4,"c":2,"x":220,"y":700},{"g":4,"c":2,"x":235,"y":830},{"g":4,"c":2,"x":250,"y":940},{"g":4,"c":2,"x":265,"y":960},{"g":4,"c":2,"x":280,"y":1040},
{"g":4,"c":3,"x":140,"y":10},{"g":4,"c":3,"x":155,"y":50},{"g":4,"c":3,"x":170,"y":150},{"g":4,"c":3,"x":185,"y":260},{"g":4,"c":3,"x":200,"y":380},{"g":4,"c":3,"x":215,"y":500},{"g":4,"c":3,"x":230,"y":640},{"g":4,"c":3,"x":245,"y":760},{"g":4,"c":3,"x":260,"y":850},{"g":4,"c":3,"x":276,"y":910},{"g":4,"c":3,"x":292,"y":1000},{"g":4,"c":3,"x":307,"y":1080},
{"g":4,"c":4,"x":150,"y":10},{"g":4,"c":4,"x":165,"y":40},{"g":4,"c":4,"x":180,"y":100},{"g":4,"c":4,"x":195,"y":180},{"g":4,"c":4,"x":210,"y":260},{"g":4,"c":4,"x":225,"y":350},{"g":4,"c":4,"x":240,"y":440},{"g":4,"c":4,"x":255,"y":530},{"g":4,"c":4,"x":270,"y":620},{"g":4,"c":4,"x":290,"y":700},{"g":4,"c":4,"x":310,"y":800},{"g":4,"c":4,"x":330,"y":860},{"g":4,"c":4,"x":346,"y":940},
{"g":4,"c":5,"x":160,"y":10},{"g":4,"c":5,"x":175,"y":40},{"g":4,"c":5,"x":190,"y":90},{"g":4,"c":5,"x":205,"y":150},{"g":4,"c":5,"x":220,"y":230},{"g":4,"c":5,"x":235,"y":310},{"g":4,"c":5,"x":250,"y":400},{"g":4,"c":5,"x":265,"y":480},{"g":4,"c":5,"x":280,"y":560},{"g":4,"c":5,"x":300,"y":650},{"g":4,"c":5,"x":320,"y":730},{"g":4,"c":5,"x":340,"y":800},{"g":4,"c":5,"x":358,"y":880},
{"g":4,"c":6,"x":165,"y":0},{"g":4,"c":6,"x":180,"y":20},{"g":4,"c":6,"x":195,"y":60},{"g":4,"c":6,"x":210,"y":110},{"g":4,"c":6,"x":225,"y":170},{"g":4,"c":6,"x":240,"y":240},{"g":4,"c":6,"x":255,"y":320},{"g":4,"c":6,"x":270,"y":400},{"g":4,"c":6,"x":290,"y":500},{"g":4,"c":6,"x":310,"y":620},{"g":4,"c":6,"x":336,"y":790},
{"g":5,"c":0,"x":25,"y":0},{"g":5,"c":0,"x":50,"y":0},{"g":5,"c":0,"x":75,"y":5},{"g":5,"c":0,"x":100,"y":10},{"g":5,"c":0,"x":115,"y":30},{"g":5,"c":0,"x":130,"y":60},{"g":5,"c":0,"x":145,"y":180},{"g":5,"c":0,"x":160,"y":330},{"g":5,"c":0,"x":175,"y":500},{"g":5,"c":0,"x":190,"y":700},{"g":5,"c":0,"x":205,"y":900},{"g":5,"c":0,"x":218,"y":1100},{"g":5,"c":0,"x":230,"y":1300},{"g":5,"c":0,"x":245,"y":1430},{"g":5,"c":0,"x":257,"y":1660},
{"g":5,"c":1,"x":120,"y":30},{"g":5,"c":1,"x":135,"y":120},{"g":5,"c":1,"x":150,"y":250},{"g":5,"c":1,"x":165,"y":410},{"g":5,"c":1,"x":180,"y":600},{"g":5,"c":1,"x":195,"y":800},{"g":5,"c":1,"x":208,"y":1000},{"g":5,"c":1,"x":220,"y":1210},{"g":5,"c":1,"x":232,"y":1500},
{"g":6,"c":0,"x":20,"y":0},{"g":6,"c":0,"x":35,"y":5},{"g":6,"c":0,"x":50,"y":5},{"g":6,"c":0,"x":65,"y":5},{"g":6,"c":0,"x":80,"y":10},{"g":6,"c":0,"x":95,"y":20},{"g":6,"c":0,"x":110,"y":50},{"g":6,"c":0,"x":122,"y":100},{"g":6,"c":0,"x":133,"y":180},{"g":6,"c":0,"x":145,"y":300},{"g":6,"c":0,"x":157,"y":480},{"g":6,"c":0,"x":168,"y":640},{"g":6,"c":0,"x":180,"y":830},{"g":6,"c":0,"x":192,"y":1060},{"g":6,"c":0,"x":203,"y":1250},{"g":6,"c":0,"x":215,"y":1480},{"g":6,"c":0,"x":227,"y":1650},{"g":6,"c":0,"x":238,"y":1830},{"g":6,"c":0,"x":248,"y":1870},
{"g":6,"c":1,"x":20,"y":0},{"g":6,"c":1,"x":35,"y":0},{"g":6,"c":1,"x":50,"y":0},{"g":6,"c":1,"x":65,"y":5},{"g":6,"c":1,"x":80,"y":10},{"g":6,"c":1,"x":95,"y":20},{"g":6,"c":1,"x":110,"y":50},{"g":6,"c":1,"x":122,"y":120},{"g":6,"c":1,"x":133,"y":200},{"g":6,"c":1,"x":145,"y":350},{"g":6,"c":1,"x":157,"y":520},{"g":6,"c":1,"x":168,"y":700},{"g":6,"c":1,"x":180,"y":900},{"g":6,"c":1,"x":192,"y":1100},{"g":6,"c":1,"x":203,"y":1320},{"g":6,"c":1,"x":215,"y":1530},{"g":6,"c":1,"x":227,"y":1640},{"g":6,"c":1,"x":240,"y":1760},{"g":6,"c":1,"x":258,"y":1820},
{"g":6,"c":2,"x":28,"y":10},{"g":6,"c":2,"x":42,"y":0},{"g":6,"c":2,"x":56,"y":5},{"g":6,"c":2,"x":70,"y":5},{"g":6,"c":2,"x":84,"y":10},{"g":6,"c":2,"x":98,"y":20},{"g":6,"c":2,"x":112,"y":60},{"g":6,"c":2,"x":124,"y":130},{"g":6,"c":2,"x":136,"y":240},{"g":6,"c":2,"x":148,"y":400},{"g":6,"c":2,"x":160,"y":570},{"g":6,"c":2,"x":172,"y":760},{"g":6,"c":2,"x":184,"y":970},{"g":6,"c":2,"x":196,"y":1160},{"g":6,"c":2,"x":208,"y":1410},{"g":6,"c":2,"x":220,"y":1580},{"g":6,"c":2,"x":232,"y":1650},{"g":6,"c":2,"x":245,"y":1750},
{"g":7,"c":0,"x":13,"y":0},{"g":7,"c":0,"x":27,"y":0},{"g":7,"c":0,"x":41,"y":5},{"g":7,"c":0,"x":55,"y":5},{"g":7,"c":0,"x":69,"y":10},{"g":7,"c":0,"x":83,"y":15},{"g":7,"c":0,"x":97,"y":20},{"g":7,"c":0,"x":111,"y":40},{"g":7,"c":0,"x":125,"y":90},{"g":7,"c":0,"x":139,"y":200},{"g":7,"c":0,"x":153,"y":330},{"g":7,"c":0,"x":165,"y":480},{"g":7,"c":0,"x":178,"y":620},{"g":7,"c":0,"x":190,"y":780},{"g":7,"c":0,"x":202,"y":930},{"g":7,"c":0,"x":214,"y":1090},{"g":7,"c":0,"x":226,"y":1250},{"g":7,"c":0,"x":238,"y":1420},{"g":7,"c":0,"x":250,"y":1620},{"g":7,"c":0,"x":258,"y":1780},
{"g":7,"c":1,"x":13,"y":0},{"g":7,"c":1,"x":30,"y":0},{"g":7,"c":1,"x":45,"y":0},{"g":7,"c":1,"x":60,"y":5},{"g":7,"c":1,"x":75,"y":5},{"g":7,"c":1,"x":90,"y":10},{"g":7,"c":1,"x":105,"y":20},{"g":7,"c":1,"x":118,"y":50},{"g":7,"c":1,"x":132,"y":110},{"g":7,"c":1,"x":145,"y":230},{"g":7,"c":1,"x":158,"y":380},{"g":7,"c":1,"x":170,"y":530},{"g":7,"c":1,"x":183,"y":720},{"g":7,"c":1,"x":196,"y":880},{"g":7,"c":1,"x":209,"y":1060},{"g":7,"c":1,"x":222,"y":1200},{"g":7,"c":1,"x":235,"y":1370},
{"g":7,"c":2,"x":20,"y":0},{"g":7,"c":2,"x":35,"y":0},{"g":7,"c":2,"x":50,"y":5},{"g":7,"c":2,"x":65,"y":5},{"g":7,"c":2,"x":80,"y":10},{"g":7,"c":2,"x":95,"y":20},{"g":7,"c":2,"x":110,"y":40},{"g":7,"c":2,"x":123,"y":100},{"g":7,"c":2,"x":137,"y":200},{"g":7,"c":2,"x":150,"y":320},{"g":7,"c":2,"x":163,"y":500},{"g":7,"c":2,"x":176,"y":660},{"g":7,"c":2,"x":189,"y":850},{"g":7,"c":2,"x":202,"y":1060},{"g":7,"c":2,"x":214,"y":1260},{"g":7,"c":2,"x":226,"y":1420},{"g":7,"c":2,"x":238,"y":1500},
{"g":8,"c":0,"x":13,"y":0},{"g":8,"c":0,"x":27,"y":5},{"g":8,"c":0,"x":41,"y":10},{"g":8,"c":0,"x":55,"y":10},{"g":8,"c":0,"x":69,"y":10},{"g":8,"c":0,"x":83,"y":10},{"g":8,"c":0,"x":97,"y":20},{"g":8,"c":0,"x":111,"y":40},{"g":8,"c":0,"x":125,"y":90},{"g":8,"c":0,"x":139,"y":180},{"g":8,"c":0,"x":153,"y":310},{"g":8,"c":0,"x":167,"y":480},{"g":8,"c":0,"x":181,"y":670},{"g":8,"c":0,"x":195,"y":900},{"g":8,"c":0,"x":209,"y":1150}
],
"d":[
{"g":0,"c":0,"x":15,"y":0},{"g":0,"c":0,"x":30,"y":5},{"g":0,"c":0,"x":50,"y":0},{"g":0,"c":0,"x":70,"y":0},{"g":0,"c":0,"x":90,"y":5},{"g":0,"c":0,"x":110,"y":5},{"g":0,"c":0,"x":130,"y":10},{"g":0,"c":0,"x":150,"y":15},{"g":0,"c":0,"x":170,"y":20},{"g":0,"c":0,"x":190,"y":25},{"g":0,"c":0,"x":210,"y":40},{"g":0,"c":0,"x":230,"y":60},{"g":0,"c":0,"x":255,"y":110},{"g":0,"c":0,"x":279,"y":180},{"g":0,"c":0,"x":303,"y":280},{"g":0,"c":0,"x":327,"y":380},{"g":0,"c":0,"x":355,"y":560},{"g":0,"c":0,"x":379,"y":720},
{"g":1,"c":0,"x":15,"y":0},{"g":1,"c":0,"x":35,"y":-10},{"g":1,"c":0,"x":52,"y":-20},{"g":1,"c":0,"x":68,"y":-35},{"g":1,"c":0,"x":86,"y":-40},{"g":1,"c":0,"x":103,"y":-50},{"g":1,"c":0,"x":120,"y":-20},{"g":1,"c":0,"x":138,"y":-10},{"g":1,"c":0,"x":155,"y":-5},{"g":1,"c":0,"x":172,"y":0},{"g":1,"c":0,"x":190,"y":0},{"g":1,"c":0,"x":207,"y":-5},{"g":1,"c":0,"x":224,"y":-20},{"g":1,"c":0,"x":241,"y":20},{"g":1,"c":0,"x":260,"y":10},{"g":1,"c":0,"x":278,"y":20},{"g":1,"c":0,"x":300,"y":10},{"g":1,"c":0,"x":326,"y":20},
{"g":1,"c":1,"x":15,"y":5},{"g":1,"c":1,"x":35,"y":10},{"g":1,"c":1,"x":52,"y":5},{"g":1,"c":1,"x":68,"y":0},{"g":1,"c":1,"x":86,"y":10},{"g":1,"c":1,"x":103,"y":10},{"g":1,"c":1,"x":120,"y":5},{"g":1,"c":1,"x":138,"y":20},{"g":1,"c":1,"x":155,"y":30},{"g":1,"c":1,"x":172,"y":40},{"g":1,"c":1,"x":190,"y":50},{"g":1,"c":1,"x":207,"y":60},{"g":1,"c":1,"x":224,"y":70},{"g":1,"c":1,"x":241,"y":140},{"g":1,"c":1,"x":260,"y":50},{"g":1,"c":1,"x":285,"y":60},{"g":1,"c":1,"x":306,"y":70},{"g":1,"c":1,"x":326,"y":100},
{"g":2,"c":0,"x":20,"y":0},{"g":2,"c":0,"x":40,"y":10},{"g":2,"c":0,"x":60,"y":15},{"g":2,"c":0,"x":80,"y":20},{"g":2,"c":0,"x":100,"y":30},{"g":2,"c":0,"x":120,"y":40},{"g":2,"c":0,"x":140,"y":50},{"g":2,"c":0,"x":160,"y":70},{"g":2,"c":0,"x":180,"y":90},{"g":2,"c":0,"x":200,"y":110},{"g":2,"c":0,"x":220,"y":170},{"g":2,"c":0,"x":240,"y":240},{"g":2,"c":0,"x":260,"y":290},
{"g":2,"c":1,"x":20,"y":0},{"g":2,"c":1,"x":40,"y":0},{"g":2,"c":1,"x":60,"y":5},{"g":2,"c":1,"x":80,"y":5},{"g":2,"c":1,"x":100,"y":10},{"g":2,"c":1,"x":120,"y":15},{"g":2,"c":1,"x":140,"y":20},{"g":2,"c":1,"x":160,"y":25},{"g":2,"c":1,"x":180,"y":30},{"g":2,"c":1,"x":200,"y":40},{"g":2,"c":1,"x":220,"y":30},{"g":2,"c":1,"x":240,"y":30},{"g":2,"c":1,"x":260,"y":20},{"g":2,"c":1,"x":278,"y":15},
{"g":2,"c":2,"x":200,"y":60},{"g":2,"c":2,"x":220,"y":100},{"g":2,"c":2,"x":240,"y":170},{"g":2,"c":2,"x":260,"y":200},{"g":2,"c":2,"x":288,"y":220},
{"g":3,"c":0,"x":12,"y":0},{"g":3,"c":0,"x":33,"y":50},{"g":3,"c":0,"x":50,"y":60},{"g":3,"c":0,"x":68,"y":40},{"g":3,"c":0,"x":86,"y":40},{"g":3,"c":0,"x":103,"y":50},{"g":3,"c":0,"x":120,"y":40},{"g":3,"c":0,"x":138,"y":60},{"g":3,"c":0,"x":155,"y":80},{"g":3,"c":0,"x":172,"y":100},{"g":3,"c":0,"x":182,"y":120},{"g":3,"c":0,"x":190,"y":150},{"g":3,"c":0,"x":200,"y":180},{"g":3,"c":0,"x":210,"y":220},{"g":3,"c":0,"x":220,"y":230},{"g":3,"c":0,"x":232,"y":210},{"g":3,"c":0,"x":245,"y":250},{"g":3,"c":0,"x":260,"y":230},{"g":3,"c":0,"x":270,"y":220},
{"g":3,"c":1,"x":12,"y":0},{"g":3,"c":1,"x":33,"y":0},{"g":3,"c":1,"x":50,"y":-10},{"g":3,"c":1,"x":68,"y":0},{"g":3,"c":1,"x":86,"y":0},{"g":3,"c":1,"x":103,"y":0},{"g":3,"c":1,"x":120,"y":0},{"g":3,"c":1,"x":138,"y":10},{"g":3,"c":1,"x":155,"y":10},{"g":3,"c":1,"x":172,"y":20},{"g":3,"c":1,"x":190,"y":20},{"g":3,"c":1,"x":200,"y":30},{"g":3,"c":1,"x":210,"y":20},{"g":3,"c":1,"x":220,"y":10},{"g":3,"c":1,"x":230,"y":0},{"g":3,"c":1,"x":240,"y":30},{"g":3,"c":1,"x":250,"y":20},
{"g":3,"c":2,"x":20,"y":5},{"g":3,"c":2,"x":40,"y":10},{"g":3,"c":2,"x":60,"y":20},{"g":3,"c":2,"x":80,"y":15},{"g":3,"c":2,"x":100,"y":20},{"g":3,"c":2,"x":120,"y":30},{"g":3,"c":2,"x":140,"y":40},{"g":3,"c":2,"x":160,"y":60},{"g":3,"c":2,"x":180,"y":80},{"g":3,"c":2,"x":200,"y":100},{"g":3,"c":2,"x":220,"y":150},{"g":3,"c":2,"x":230,"y":180},{"g":3,"c":2,"x":240,"y":220},
{"g":4,"c":0,"x":15,"y":0},{"g":4,"c":0,"x":33,"y":15},{"g":4,"c":0,"x":50,"y":10},{"g":4,"c":0,"x":67,"y":20},{"g":4,"c":0,"x":84,"y":35},{"g":4,"c":0,"x":100,"y":30},{"g":4,"c":0,"x":116,"y":45},{"g":4,"c":0,"x":132,"y":65},{"g":4,"c":0,"x":150,"y":85},{"g":4,"c":0,"x":165,"y":100},{"g":4,"c":0,"x":182,"y":150},{"g":4,"c":0,"x":198,"y":180},{"g":4,"c":0,"x":215,"y":220},{"g":4,"c":0,"x":232,"y":250},{"g":4,"c":0,"x":249,"y":290}
]
},
"resolve":{"scale":{"color":"independent"},"legend":{"color":"independent"}},
"spacing":21.5,
"vconcat":[
{"hconcat":[
 {"width":318,"height":198,"data":{"name":"a1"},"layer":[
  {"encoding":{
   "x":{"field":"x","type":"quantitative","scale":{"domain":[0,200],"nice":false},"axis":{"values":[0,50,100,150,200],"tickCount":30,"title":"Stimulus current (µA)"}},
   "y":{"field":"y","type":"quantitative","scale":{"domain":[-200,1600],"nice":false},"axis":{"values":[-200,0,200,400,600,800,1000,1200,1400,1600],"tickCount":30,"format":"d","title":"ECAP N1 to P2 amplitude (µV)"}},
   "color":{"field":"g","type":"nominal","scale":{"domain":[0,1,2,3,4,5,6],"range":["#FF6A13","#FFC000","#008000","#66B2FF","#0000FF","#6600CC","#000000"]},
    "legend":{"title":null,"orient":"none","legendX":0,"legendY":4,"symbolType":"M-2.67,0H2.67M0,-1L0.225,-0.309L0.951,-0.309L0.363,0.118L0.588,0.809L0,0.382L-0.588,0.809L-0.363,0.118L-0.951,-0.309L-0.225,-0.309Z","symbolSize":81,"symbolOffset":8.5,"labelOffset":8.9,"labelFontSize":10,"rowPadding":1.8,
     "labelExpr":"['Day 8','Day 11 - 13','Day 14 - 20','Day 21 - 27','Day 28 - 34','Day 35 - 41','Day 42'][datum.value]",
     "encode":{"symbols":{"update":{"fill":{"signal":"['#FF6A13','#FFC000','#008000','#66B2FF','#0000FF','#6600CC','#000000'][datum.value]"},"stroke":{"signal":"['#FF6A13','#FFC000','#008000','#66B2FF','#0000FF','#6600CC','#000000'][datum.value]"},"opacity":{"value":1}}}}}}},
   "layer":[
    {"mark":{"type":"line","strokeWidth":1.5,"clip":true},"encoding":{"detail":{"field":"c"}}},
    {"mark":{"type":"point","shape":"M0,-1L0.225,-0.309L0.951,-0.309L0.363,0.118L0.588,0.809L0,0.382L-0.588,0.809L-0.363,0.118L-0.951,-0.309L-0.225,-0.309Z","size":64,"filled":true,"opacity":1,"clip":true}}
   ]},
  {"data":{"values":[{}]},"mark":{"type":"rect","fill":"white","stroke":"#777","strokeWidth":1.5},"encoding":{"x":{"datum":85.1},"x2":{"datum":101.5},"y":{"datum":1579},"y2":{"datum":1361}}},
  {"data":{"values":[{}]},"mark":{"type":"text","text":"a1","fontSize":16,"fontWeight":"bold"},"encoding":{"x":{"datum":93.3},"y":{"datum":1470}}},
  {"data":{"values":[{}]},"mark":{"type":"rect","fill":"white","stroke":"#999"},"encoding":{"x":{"datum":126.1},"x2":{"datum":200},"y":{"datum":1579},"y2":{"datum":1261}}},
  {"data":{"values":[{}]},"mark":{"type":"text","text":["Mouse 7707L1 1-G","Implanted-Hearing"],"align":"left","fontSize":10,"fontWeight":"bold","lineHeight":16.7},"encoding":{"x":{"datum":131.1},"y":{"datum":1410}}}
 ]},
 {"width":317,"height":198,"data":{"name":"a2"},"layer":[
  {"encoding":{
   "x":{"field":"x","type":"quantitative","scale":{"domain":[0,200],"nice":false},"axis":{"values":[0,50,100,150,200],"tickCount":30,"title":"Stimulus current (µA)"}},
   "y":{"field":"y","type":"quantitative","scale":{"domain":[-200,1600],"nice":false},"axis":{"values":[-200,0,200,400,600,800,1000,1200,1400,1600],"tickCount":30,"format":"d","title":"ECAP N1 to P2 amplitude (µV)"}},
   "color":{"field":"g","type":"nominal","scale":{"domain":[0,1,2,3,4,5,6],"range":["#FF6A13","#FFC000","#008000","#66B2FF","#0000FF","#6600CC","#000000"]},
    "legend":{"title":null,"orient":"none","legendX":-2,"legendY":-11,"symbolType":"M-2.78,0H2.78M0,-1L0.225,-0.309L0.951,-0.309L0.363,0.118L0.588,0.809L0,0.382L-0.588,0.809L-0.363,0.118L-0.951,-0.309L-0.225,-0.309Z","symbolSize":81,"symbolOffset":11,"labelOffset":10.7,"labelFontSize":10,"rowPadding":2,
     "labelExpr":"['Day 8','Day 11 - 13','Day 14 - 20','Day 21 - 27','Day 28 - 34','Day 35 - 41','Day 42'][datum.value]",
     "encode":{"symbols":{"update":{"fill":{"signal":"['#FF6A13','#FFC000','#008000','#66B2FF','#0000FF','#6600CC','#000000'][datum.value]"},"stroke":{"signal":"['#FF6A13','#FFC000','#008000','#66B2FF','#0000FF','#6600CC','#000000'][datum.value]"},"opacity":{"value":1}}}}}}},
   "layer":[
    {"mark":{"type":"line","strokeWidth":1.5,"clip":true},"encoding":{"detail":{"field":"c"}}},
    {"mark":{"type":"point","shape":"M0,-1L0.225,-0.309L0.951,-0.309L0.363,0.118L0.588,0.809L0,0.382L-0.588,0.809L-0.363,0.118L-0.951,-0.309L-0.225,-0.309Z","size":64,"filled":true,"opacity":1,"clip":true}}
   ]},
  {"data":{"values":[{}]},"mark":{"type":"rect","fill":"white","stroke":"#777","strokeWidth":1.5},"encoding":{"x":{"datum":86.6},"x2":{"datum":102.4},"y":{"datum":1652},"y2":{"datum":1452}}},
  {"data":{"values":[{}]},"mark":{"type":"text","text":"a2","fontSize":16,"fontWeight":"bold"},"encoding":{"x":{"datum":94.5},"y":{"datum":1552}}},
  {"data":{"values":[{}]},"mark":{"type":"rect","fill":"white","stroke":"#999"},"encoding":{"x":{"datum":126.4},"x2":{"datum":199.6},"y":{"datum":1697},"y2":{"datum":1361}}},
  {"data":{"values":[{}]},"mark":{"type":"text","text":["Mouse 7707L1 2-G","Implanted-Hearing"],"align":"left","fontSize":10,"fontWeight":"bold","lineHeight":16.7},"encoding":{"x":{"datum":130.8},"y":{"datum":1515}}}
 ]}
],"spacing":29.5,"resolve":{"scale":{"color":"independent"},"legend":{"color":"independent"}}},
{"hconcat":[
 {"width":318,"height":198,"data":{"name":"a3"},"layer":[
  {"encoding":{
   "x":{"field":"x","type":"quantitative","scale":{"domain":[0,200],"nice":false},"axis":{"values":[0,50,100,150,200],"tickCount":30,"title":"Stimulus current (µA)"}},
   "y":{"field":"y","type":"quantitative","scale":{"domain":[-200,1600],"nice":false},"axis":{"values":[-200,0,200,400,600,800,1000,1200,1400,1600],"tickCount":30,"format":"d","title":"ECAP N1 to P2 amplitude (µV)"}},
   "color":{"field":"g","type":"nominal","scale":{"domain":[0,1,2,3,4,5,6],"range":["#FF6A13","#FFC000","#008000","#66B2FF","#0000FF","#6600CC","#000000"]},
    "legend":{"title":null,"orient":"none","legendX":0,"legendY":-4,"symbolType":"M-2.85,0H2.85M0,-1L0.225,-0.309L0.951,-0.309L0.363,0.118L0.588,0.809L0,0.382L-0.588,0.809L-0.363,0.118L-0.951,-0.309L-0.225,-0.309Z","symbolSize":81,"symbolOffset":11.5,"labelOffset":11.9,"labelFontSize":11,"rowPadding":2.2,
     "labelExpr":"['Day 8','Day 11 - 13','Day 14 - 20','Day 21 - 27','Day 28 - 34','Day 35 - 41','Day 42'][datum.value]",
     "encode":{"symbols":{"update":{"fill":{"signal":"['#FF6A13','#FFC000','#008000','#66B2FF','#0000FF','#6600CC','#000000'][datum.value]"},"stroke":{"signal":"['#FF6A13','#FFC000','#008000','#66B2FF','#0000FF','#6600CC','#000000'][datum.value]"},"opacity":{"value":1}}}}}}},
   "layer":[
    {"mark":{"type":"line","strokeWidth":1.5,"clip":true},"encoding":{"detail":{"field":"c"}}},
    {"mark":{"type":"point","shape":"M0,-1L0.225,-0.309L0.951,-0.309L0.363,0.118L0.588,0.809L0,0.382L-0.588,0.809L-0.363,0.118L-0.951,-0.309L-0.225,-0.309Z","size":64,"filled":true,"opacity":1,"clip":true}}
   ]},
  {"data":{"values":[{}]},"mark":{"type":"rect","fill":"white","stroke":"#777","strokeWidth":1.5},"encoding":{"x":{"datum":85.2},"x2":{"datum":101.6},"y":{"datum":1588},"y2":{"datum":1388}}},
  {"data":{"values":[{}]},"mark":{"type":"text","text":"a3","fontSize":16,"fontWeight":"bold"},"encoding":{"x":{"datum":93.4},"y":{"datum":1488}}},
  {"data":{"values":[{}]},"mark":{"type":"rect","fill":"white","stroke":"#999"},"encoding":{"x":{"datum":124.2},"x2":{"datum":199.1},"y":{"datum":1634},"y2":{"datum":1279}}},
  {"data":{"values":[{}]},"mark":{"type":"text","text":["Mouse 7707L1 3-G","Implanted-Hearing"],"align":"left","fontSize":10,"fontWeight":"bold","lineHeight":14.7},"encoding":{"x":{"datum":129},"y":{"datum":1434}}}
 ]},
 {"width":317,"height":198,"data":{"name":"b1"},"layer":[
  {"encoding":{
   "x":{"field":"x","type":"quantitative","scale":{"domain":[0,200],"nice":false},"axis":{"values":[0,50,100,150,200],"tickCount":30,"title":"Stimulus current (µA)"}},
   "y":{"field":"y","type":"quantitative","scale":{"domain":[-200,1600],"nice":false},"axis":{"values":[-200,0,200,400,600,800,1000,1200,1400,1600],"tickCount":30,"format":"d","title":"ECAP N1 to P2 amplitude (µV)"}},
   "color":{"field":"g","type":"nominal","scale":{"domain":[0,1,2,3,4,5,6],"range":["#FF6A13","#FFC000","#008000","#66B2FF","#0000FF","#6600CC","#000000"]},
    "legend":{"title":null,"orient":"none","legendX":0,"legendY":0,"symbolType":"M-2.6,0H2.6M-1,-0.6L1,-0.6L0,1.1Z","symbolSize":81,"symbolOffset":11.5,"labelOffset":14.8,"labelFontSize":11,"rowPadding":2.9,
     "labelExpr":"['Day 8','Day 11 -13','Day 14 - 20','Day 21 - 27','Day 28 - 34','Day 35 - 41','Day 42'][datum.value]",
     "encode":{"labels":{"update":{"fontSize":{"signal":"datum.value==0?8:11"}}},"symbols":{"update":{"fill":{"signal":"['#FF6A13','#FFC000','#008000','#66B2FF','#0000FF','#6600CC','#000000'][datum.value]"},"stroke":{"signal":"['#FF6A13','#FFC000','#008000','#66B2FF','#0000FF','#6600CC','#000000'][datum.value]"},"opacity":{"value":1}}}}}}},
   "layer":[
    {"mark":{"type":"line","strokeWidth":1.5,"clip":true},"encoding":{"detail":{"field":"c"}}},
    {"mark":{"type":"point","shape":"triangle-down","size":50,"filled":true,"opacity":1,"clip":true}}
   ]},
  {"data":{"values":[{}]},"mark":{"type":"rect","fill":"white","stroke":"#777","strokeWidth":1.5},"encoding":{"x":{"datum":86.6},"x2":{"datum":102.4},"y":{"datum":1543},"y2":{"datum":1343}}},
  {"data":{"values":[{}]},"mark":{"type":"text","text":"b1","fontSize":16,"fontWeight":"bold"},"encoding":{"x":{"datum":94.5},"y":{"datum":1443}}},
  {"data":{"values":[{}]},"mark":{"type":"rect","fill":"white","stroke":"#999"},"encoding":{"x":{"datum":126.4},"x2":{"datum":200.5},"y":{"datum":1597},"y2":{"datum":1270}}},
  {"data":{"values":[{}]},"mark":{"type":"text","text":["Mouse 7708L1 1-G","Implanted-Hearing"],"align":"left","fontSize":10,"fontWeight":"bold","lineHeight":16.7},"encoding":{"x":{"datum":131.4},"y":{"datum":1418}}}
 ]}
],"spacing":29.5,"resolve":{"scale":{"color":"independent"},"legend":{"color":"independent"}}},
{"vconcat":[
 {"hconcat":[
  {"width":318,"height":198,"data":{"name":"b2"},"layer":[
   {"encoding":{
    "x":{"field":"x","type":"quantitative","scale":{"domain":[0,200],"nice":false},"axis":{"values":[0,50,100,150,200],"tickCount":30,"title":"Stimulus current (µA)"}},
    "y":{"field":"y","type":"quantitative","scale":{"domain":[-200,1600],"nice":false},"axis":{"values":[-200,0,200,400,600,800,1000,1200,1400,1600],"tickCount":30,"format":"d","title":"ECAP N1 to P2 amplitude (µV)"}},
    "color":{"field":"g","type":"nominal","scale":{"domain":[0,1,2],"range":["#FF6A13","#FFC000","#1E7B1E"]},
     "legend":{"title":null,"orient":"none","legendX":0,"legendY":0,"symbolType":"M-3,0H3M-1,-0.6L1,-0.6L0,1.1Z","symbolSize":81,"symbolOffset":13.5,"labelOffset":13.5,"labelFontSize":11,"rowPadding":3.1,
      "labelExpr":"['Day 8','Day 11 -13','Day 15'][datum.value]",
      "encode":{"symbols":{"update":{"fill":{"signal":"['#FF6A13','#FFC000','#1E7B1E'][datum.value]"},"stroke":{"signal":"['#FF6A13','#FFC000','#1E7B1E'][datum.value]"},"opacity":{"value":1}}}}}}},
    "layer":[
     {"mark":{"type":"line","strokeWidth":1.5,"clip":true},"encoding":{"detail":{"field":"c"}}},
     {"mark":{"type":"point","shape":"triangle-down","size":50,"filled":true,"opacity":1,"clip":true}}
    ]},
   {"data":{"values":[{}]},"mark":{"type":"rect","fill":"white","stroke":"#777","strokeWidth":1.5},"encoding":{"x":{"datum":85.2},"x2":{"datum":101},"y":{"datum":1588},"y2":{"datum":1361}}},
   {"data":{"values":[{}]},"mark":{"type":"text","text":"b2","fontSize":16,"fontWeight":"bold"},"encoding":{"x":{"datum":93.1},"y":{"datum":1475}}},
   {"data":{"values":[{}]},"mark":{"type":"rect","fill":"white","stroke":"#999"},"encoding":{"x":{"datum":123.6},"x2":{"datum":198.4},"y":{"datum":1597},"y2":{"datum":1252}}},
   {"data":{"values":[{}]},"mark":{"type":"text","text":["Mouse 7708L1 2-G","Implanted-Hearing"],"align":"left","fontSize":10,"fontWeight":"bold","lineHeight":15},"encoding":{"x":{"datum":128.6},"y":{"datum":1402}}}
  ]},
  {"width":317,"height":198,"data":{"name":"c"},"layer":[
   {"encoding":{
    "x":{"field":"x","type":"quantitative","scale":{"domain":[0,450],"nice":false},"axis":{"values":[0,50,100,150,200,250,300,350,400,450],"tickCount":30,"title":"Stimulus current (µA)"}},
    "y":{"field":"y","type":"quantitative","scale":{"domain":[-200,2000],"nice":false},"axis":{"values":[-200,0,200,400,600,800,1000,1200,1400,1600,1800,2000],"tickCount":30,"format":"d","title":"ECAP N1 to P2 amplitude (µV)"}},
    "color":{"field":"g","type":"nominal","scale":{"domain":[0,1,2,3,4,5,6,7,8],"range":["#FF0000","#FF7F27","#FFC000","#008000","#66B2FF","#0000FF","#6600CC","#808080","#000000"]},
     "legend":{"title":null,"orient":"none","legendX":0,"legendY":0,"symbolType":"M-2.1,0H2.1M1,0A1,1,0,1,1,-1,0A1,1,0,1,1,1,0Z","symbolSize":169,"symbolOffset":6,"labelOffset":7.7,"labelFontSize":11.5,"rowPadding":0,"clipHeight":15.4,
      "labelExpr":"['Day 0','Day 1-2','Day 3-6','Day 7-14','Day 15-30','Day 31-62','Day 63-126','Day 127+','Day 261'][datum.value]",
      "encode":{"symbols":{"update":{"fill":{"signal":"['#FF0000','#FF7F27','#FFC000','#008000','#66B2FF','#0000FF','#6600CC','#808080','#000000'][datum.value]"},"stroke":{"signal":"['#FF0000','#FF7F27','#FFC000','#008000','#66B2FF','#0000FF','#6600CC','#808080','#000000'][datum.value]"},"opacity":{"value":1}}}}}}},
    "layer":[
     {"mark":{"type":"line","strokeWidth":1.5,"clip":true},"encoding":{"detail":{"field":"c"}}},
     {"mark":{"type":"point","shape":"circle","size":45,"filled":true,"opacity":1,"clip":true}}
    ]},
   {"data":{"values":[{}]},"mark":{"type":"rect","fill":"white","stroke":"#777","strokeWidth":1.5},"encoding":{"x":{"datum":182.1},"x2":{"datum":213.4},"y":{"datum":1986},"y2":{"datum":1741}}},
   {"data":{"values":[{}]},"mark":{"type":"text","text":"c","fontSize":16,"fontWeight":"bold"},"encoding":{"x":{"datum":197.8},"y":{"datum":1863}}},
   {"data":{"values":[{}]},"mark":{"type":"rect","fill":"white","stroke":"#999"},"encoding":{"x":{"datum":284.4},"x2":{"datum":449},"y":{"datum":1997},"y2":{"datum":1608}}},
   {"data":{"values":[{}]},"mark":{"type":"text","text":["GP 580L1 2-bolt","Implanted-Hearing"],"align":"center","fontSize":11,"fontWeight":"bold","lineHeight":16.7},"encoding":{"x":{"datum":360.7},"y":{"datum":1804}}}
  ]}
 ],"spacing":29.5,"resolve":{"scale":{"color":"independent"},"legend":{"color":"independent"}}},
 {"hconcat":[
  {"width":318,"height":198,"data":{"name":"d"},"layer":[
   {"encoding":{
    "x":{"field":"x","type":"quantitative","scale":{"domain":[0,450],"nice":false},"axis":{"values":[0,50,100,150,200,250,300,350,400,450],"tickCount":30,"title":"Stimulus current (µA)","labelPadding":3,"titlePadding":11.5}},
    "y":{"field":"y","type":"quantitative","scale":{"domain":[-200,1600],"nice":false},"axis":{"values":[-200,0,200,400,600,800,1000,1200,1400,1600],"tickCount":30,"format":"d","title":"ECAP N1 to P2 amplitude (µV)"}},
    "color":{"field":"g","type":"nominal","scale":{"domain":[0,1,2,3,4],"range":["#FF0000","#66B2FF","#6600CC","#808080","#000000"]},
     "legend":{"title":null,"orient":"none","legendX":1,"legendY":5,"symbolType":"M-2.45,0H2.45M1,0A1,1,0,1,1,-1,0A1,1,0,1,1,1,0Z","symbolSize":137,"symbolOffset":13.2,"labelOffset":9.1,"labelFontSize":11,"rowPadding":-0.5,
      "labelExpr":"['Day 0','Day 15-30','Day 63-126','Day 127+','Day 240'][datum.value]",
      "encode":{"symbols":{"update":{"fill":{"signal":"['#FF0000','#66B2FF','#6600CC','#808080','#000000'][datum.value]"},"stroke":{"signal":"['#FF0000','#66B2FF','#6600CC','#808080','#000000'][datum.value]"},"opacity":{"value":1}}}}}}},
    "layer":[
     {"mark":{"type":"line","strokeWidth":1.5,"clip":true},"encoding":{"detail":{"field":"c"}}},
     {"mark":{"type":"point","shape":"circle","size":55,"filled":true,"opacity":1,"clip":true}}
    ]},
   {"data":{"values":[{}]},"mark":{"type":"rect","fill":"white","stroke":"#777","strokeWidth":1.5},"encoding":{"x":{"datum":179},"x2":{"datum":214.4},"y":{"datum":1543},"y2":{"datum":1316}}},
   {"data":{"values":[{}]},"mark":{"type":"text","text":"d","fontSize":16,"fontWeight":"bold"},"encoding":{"x":{"datum":196.7},"y":{"datum":1429}}},
   {"data":{"values":[{}]},"mark":{"type":"rect","fill":"white","stroke":"#999"},"encoding":{"x":{"datum":255.4},"x2":{"datum":447.9},"y":{"datum":1543},"y2":{"datum":1025}}},
   {"data":{"values":[{}]},"mark":{"type":"text","text":["GP 498L1 2-bolt","Neomycin Deafened","AAV.Empty-Implanted"],"align":"center","fontSize":10,"fontWeight":"bold","lineHeight":16.3},"encoding":{"x":{"datum":345.3},"y":{"datum":1267}}}
  ]}
 ],"resolve":{"scale":{"color":"independent"},"legend":{"color":"independent"}}}
],"spacing":15,"resolve":{"scale":{"color":"independent"},"legend":{"color":"independent"}}}
]
}
